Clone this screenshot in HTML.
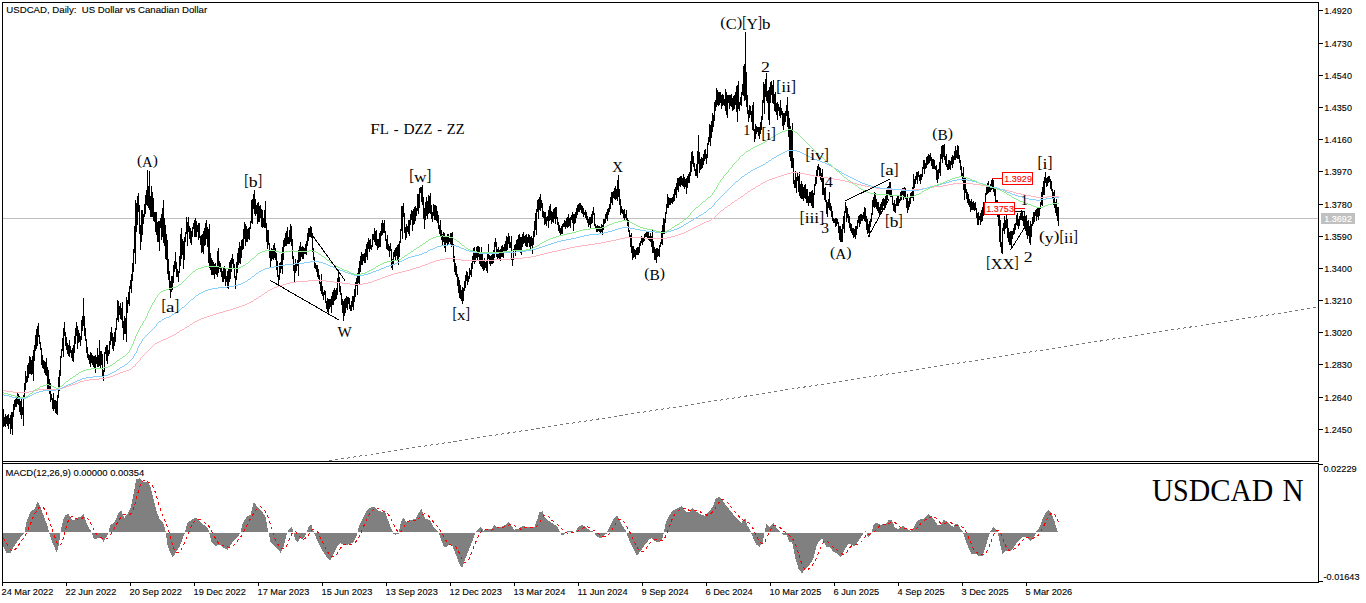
<!DOCTYPE html>
<html><head><meta charset="utf-8"><title>USDCAD Daily</title>
<style>
html,body{margin:0;padding:0;background:#fff;}
body{width:1366px;height:603px;overflow:hidden;position:relative;font-family:"Liberation Sans",sans-serif;}
svg{position:absolute;left:0;top:0;display:block;}
.ax{font-family:"Liberation Sans",sans-serif;font-size:9.8px;fill:#000;stroke:#000;stroke-width:0.12px;white-space:pre;}
.wv{font-family:"Liberation Serif",serif;font-size:15.5px;fill:#000;stroke:#000;stroke-width:0.2px;}
</style></head><body>
<svg width="1366" height="603" viewBox="0 0 1366 603">
<rect x="0" y="0" width="1366" height="603" fill="#fff"/>

<g shape-rendering="crispEdges">
<rect x="3" y="218" width="1315" height="1" fill="#c0c0c0"/>
</g>
<line x1="329" y1="460.9" x2="1318" y2="307.2" stroke="#767676" stroke-width="1" stroke-dasharray="3 3" shape-rendering="crispEdges"/>
<path d="M3.5 409V427M4.5 417V426M5.5 414V427M6.5 416V424M7.5 415V426M8.5 414V429M9.5 418V424M10.5 415V434M11.5 412V429M12.5 412V435M13.5 404V417M14.5 400V410M15.5 399V407M16.5 396V407M17.5 393V404M18.5 394V405M19.5 396V412M20.5 401V415M21.5 398V419M22.5 407V415M23.5 395V426M24.5 383V397M25.5 371V390M26.5 376V383M27.5 365V382M28.5 363V378M29.5 356V374M30.5 357V374M31.5 360V375M32.5 356V374M33.5 350V381M34.5 345V361M35.5 335V351M36.5 329V349M37.5 326V346M38.5 323V337M39.5 335V344M40.5 342V350M41.5 348V365M42.5 355V368M43.5 360V369M44.5 361V373M45.5 362V375M46.5 358V376M47.5 367V389M48.5 370V390M49.5 379V394M50.5 383V402M51.5 394V400M52.5 398V409M53.5 393V411M54.5 400V409M55.5 400V413M56.5 401V414M57.5 395V415M58.5 377V398M59.5 370V391M60.5 356V376M61.5 349V358M62.5 338V351M63.5 328V357M64.5 322V336M65.5 332V346M66.5 337V350M67.5 343V354M68.5 345V356M69.5 340V357M70.5 346V353M71.5 350V358M72.5 348V361M73.5 345V362M74.5 336V353M75.5 328V344M76.5 322V336M77.5 326V349M78.5 330V343M79.5 333V342M80.5 336V346M81.5 320V340M82.5 316V331M83.5 298V326M84.5 316V336M85.5 328V341M86.5 339V353M87.5 347V358M88.5 354V360M89.5 355V364M90.5 352V367M91.5 353V363M92.5 355V365M93.5 356V367M94.5 356V368M95.5 355V373M96.5 357V364M97.5 348V367M98.5 355V367M99.5 340V366M100.5 351V368M101.5 351V365M102.5 354V377M103.5 370V381M104.5 352V372M105.5 347V354M106.5 345V361M107.5 345V364M108.5 350V356M109.5 341V354M110.5 332V345M111.5 327V341M112.5 333V349M113.5 337V351M114.5 332V346M115.5 328V342M116.5 318V330M117.5 300V320M118.5 301V322M119.5 306V315M120.5 303V319M121.5 308V320M122.5 302V328M123.5 321V340M124.5 316V334M125.5 318V334M126.5 297V342M127.5 300V313M128.5 292V304M129.5 286V306M130.5 280V289M131.5 274V293M132.5 263V281M133.5 249V272M134.5 226V253M135.5 200V264M136.5 203V232M137.5 196V225M138.5 193V212M139.5 205V234M140.5 225V250M141.5 210V242M142.5 210V235M143.5 214V224M144.5 204V217M145.5 195V214M146.5 190V205M147.5 170V206M148.5 186V208M149.5 171V210M150.5 196V217M151.5 186V217M152.5 192V217M153.5 198V221M154.5 212V222M155.5 212V232M156.5 212V235M157.5 222V242M158.5 221V242M159.5 221V251M160.5 218V228M161.5 214V240M162.5 208V237M163.5 200V243M164.5 218V246M165.5 225V259M166.5 234V260M167.5 240V274M168.5 259V280M169.5 271V290M170.5 281V298M171.5 276V292M172.5 276V290M173.5 265V283M174.5 261V272M175.5 252V269M176.5 262V277M177.5 269V277M178.5 271V282M179.5 256V273M180.5 234V266M181.5 228V259M182.5 239V255M183.5 241V269M184.5 237V260M185.5 232V242M186.5 217V234M187.5 222V246M188.5 217V232M189.5 226V239M190.5 228V243M191.5 231V245M192.5 227V237M193.5 223V229M194.5 220V237M195.5 218V237M196.5 221V237M197.5 225V232M198.5 223V240M199.5 223V238M200.5 236V245M201.5 235V253M202.5 234V252M203.5 231V254M204.5 228V246M205.5 223V245M206.5 220V239M207.5 227V247M208.5 229V263M209.5 224V268M210.5 253V270M211.5 258V275M212.5 260V275M213.5 262V275M214.5 264V279M215.5 263V274M216.5 266V275M217.5 251V277M218.5 248V273M219.5 261V269M220.5 263V272M221.5 268V277M222.5 271V282M223.5 267V282M224.5 266V279M225.5 269V286M226.5 276V282M227.5 271V288M228.5 268V289M229.5 262V282M230.5 260V279M231.5 258V272M232.5 254V264M233.5 259V269M234.5 264V278M235.5 276V289M236.5 262V280M237.5 253V273M238.5 248V265M239.5 242V263M240.5 246V264M241.5 240V258M242.5 239V250M243.5 229V249M244.5 222V239M245.5 224V246M246.5 226V242M247.5 229V242M248.5 228V239M249.5 227V240M250.5 221V229M251.5 200V223M252.5 199V224M253.5 194V209M254.5 190V214M255.5 199V216M256.5 205V214M257.5 203V224M258.5 202V222M259.5 206V222M260.5 205V218M261.5 209V227M262.5 210V228M263.5 218V227M264.5 210V228M265.5 201V228M266.5 223V242M267.5 230V249M268.5 230V245M269.5 243V258M270.5 250V268M271.5 248V261M272.5 249V259M273.5 245V260M274.5 243V258M275.5 248V260M276.5 253V270M277.5 261V277M278.5 275V285M279.5 263V280M280.5 262V273M281.5 254V269M282.5 247V274M283.5 240V260M284.5 238V247M285.5 233V246M286.5 231V246M287.5 227V244M288.5 237V244M289.5 230V244M290.5 224V242M291.5 226V246M292.5 239V259M293.5 256V271M294.5 265V282M295.5 259V273M296.5 264V271M297.5 260V266M298.5 250V276M299.5 246V262M300.5 242V261M301.5 247V257M302.5 246V259M303.5 247V259M304.5 248V254M305.5 244V254M306.5 241V255M307.5 233V246M308.5 228V241M309.5 228V237M310.5 226V237M311.5 227V238M312.5 233V252M313.5 248V260M314.5 257V268M315.5 263V269M316.5 265V272M317.5 265V277M318.5 269V279M319.5 275V284M320.5 282V291M321.5 274V294M322.5 286V296M323.5 292V300M324.5 290V295M325.5 291V303M326.5 301V309M327.5 298V312M328.5 299V314M329.5 299V309M330.5 299V307M331.5 296V313M332.5 292V305M333.5 290V305M334.5 288V301M335.5 290V300M336.5 288V299M337.5 278V295M338.5 270V283M339.5 277V292M340.5 286V295M341.5 293V305M342.5 299V313M343.5 301V321M344.5 299V316M345.5 298V313M346.5 296V308M347.5 297V310M348.5 297V304M349.5 298V309M350.5 305V311M351.5 301V311M352.5 296V307M353.5 296V310M354.5 289V302M355.5 282V297M356.5 278V286M357.5 273V295M358.5 268V283M359.5 261V284M360.5 256V272M361.5 252V265M362.5 254V265M363.5 254V261M364.5 253V263M365.5 249V263M366.5 244V257M367.5 242V260M368.5 238V249M369.5 240V252M370.5 239V249M371.5 245V250M372.5 234V247M373.5 234V240M374.5 228V242M375.5 231V245M376.5 230V246M377.5 239V250M378.5 239V248M379.5 233V247M380.5 231V247M381.5 223V236M382.5 220V235M383.5 223V233M384.5 220V233M385.5 231V241M386.5 239V249M387.5 235V250M388.5 244V251M389.5 246V257M390.5 243V251M391.5 249V268M392.5 259V270M393.5 252V264M394.5 250V257M395.5 248V260M396.5 247V256M397.5 245V260M398.5 244V265M399.5 241V257M400.5 229V243M401.5 206V231M402.5 206V239M403.5 203V217M404.5 213V233M405.5 227V240M406.5 224V238M407.5 226V232M408.5 220V234M409.5 220V236M410.5 214V225M411.5 210V220M412.5 211V231M413.5 209V225M414.5 207V224M415.5 206V221M416.5 208V216M417.5 194V211M418.5 194V214M419.5 188V208M420.5 187V193M421.5 187V202M422.5 185V205M423.5 197V219M424.5 208V229M425.5 202V220M426.5 197V216M427.5 201V219M428.5 195V214M429.5 196V213M430.5 193V214M431.5 205V219M432.5 212V222M433.5 204V216M434.5 205V220M435.5 205V220M436.5 206V221M437.5 211V223M438.5 215V229M439.5 225V234M440.5 220V237M441.5 230V240M442.5 234V245M443.5 232V242M444.5 233V248M445.5 236V252M446.5 236V243M447.5 234V245M448.5 234V244M449.5 238V242M450.5 233V244M451.5 233V247M452.5 232V246M453.5 244V262M454.5 256V272M455.5 263V275M456.5 266V277M457.5 274V286M458.5 277V293M459.5 280V298M460.5 285V299M461.5 290V301M462.5 287V304M463.5 288V301M464.5 281V291M465.5 275V288M466.5 271V281M467.5 272V285M468.5 276V282M469.5 268V279M470.5 270V275M471.5 263V277M472.5 256V269M473.5 248V262M474.5 247V264M475.5 252V262M476.5 247V258M477.5 246V261M478.5 246V257M479.5 247V264M480.5 252V266M481.5 247V267M482.5 254V269M483.5 261V271M484.5 258V270M485.5 262V268M486.5 261V271M487.5 253V273M488.5 244V259M489.5 255V264M490.5 256V266M491.5 255V264M492.5 253V264M493.5 250V263M494.5 242V258M495.5 238V247M496.5 242V257M497.5 249V260M498.5 247V258M499.5 250V260M500.5 249V261M501.5 246V257M502.5 245V257M503.5 247V258M504.5 244V253M505.5 241V253M506.5 236V252M507.5 237V250M508.5 233V244M509.5 236V248M510.5 242V248M511.5 236V260M512.5 258V266M513.5 249V260M514.5 245V251M515.5 244V256M516.5 240V252M517.5 239V251M518.5 235V250M519.5 234V252M520.5 237V253M521.5 237V255M522.5 234V247M523.5 232V244M524.5 236V243M525.5 235V246M526.5 234V247M527.5 237V247M528.5 234V243M529.5 235V247M530.5 237V249M531.5 236V246M532.5 238V254M533.5 231V245M534.5 221V237M535.5 213V230M536.5 209V235M537.5 200V212M538.5 199V219M539.5 197V210M540.5 194V211M541.5 200V208M542.5 203V217M543.5 211V218M544.5 212V225M545.5 212V224M546.5 217V226M547.5 216V221M548.5 210V228M549.5 206V221M550.5 204V220M551.5 211V224M552.5 212V222M553.5 209V223M554.5 208V219M555.5 207V224M556.5 207V219M557.5 217V225M558.5 222V231M559.5 225V233M560.5 228V236M561.5 226V234M562.5 224V234M563.5 223V227M564.5 220V227M565.5 221V229M566.5 218V227M567.5 217V228M568.5 214V227M569.5 218V226M570.5 217V228M571.5 215V220M572.5 212V223M573.5 214V231M574.5 214V224M575.5 212V223M576.5 208V218M577.5 205V215M578.5 204V212M579.5 203V212M580.5 203V210M581.5 205V213M582.5 206V214M583.5 208V217M584.5 212V215M585.5 210V218M586.5 212V220M587.5 216V223M588.5 219V227M589.5 217V225M590.5 217V228M591.5 214V224M592.5 211V223M593.5 207V215M594.5 213V226M595.5 224V228M596.5 226V232M597.5 225V232M598.5 226V231M599.5 226V232M600.5 227V233M601.5 224V232M602.5 225V235M603.5 219V230M604.5 219V224M605.5 214V223M606.5 212V219M607.5 209V221M608.5 208V215M609.5 204V212M610.5 197V209M611.5 192V203M612.5 192V205M613.5 191V198M614.5 188V199M615.5 186V200M616.5 189V199M617.5 180V201M618.5 175V197M619.5 189V205M620.5 199V215M621.5 206V213M622.5 209V214M623.5 210V218M624.5 209V220M625.5 214V218M626.5 210V220M627.5 218V226M628.5 220V232M629.5 230V237M630.5 235V247M631.5 233V253M632.5 246V260M633.5 246V258M634.5 249V257M635.5 250V259M636.5 248V255M637.5 247V255M638.5 247V255M639.5 243V253M640.5 241V246M641.5 236V243M642.5 238V245M643.5 237V242M644.5 234V241M645.5 233V237M646.5 231V237M647.5 232V238M648.5 232V240M649.5 236V241M650.5 233V242M651.5 236V247M652.5 229V253M653.5 241V253M654.5 247V260M655.5 249V260M656.5 248V263M657.5 248V257M658.5 249V256M659.5 245V257M660.5 242V247M661.5 231V244M662.5 225V245M663.5 218V234M664.5 219V234M665.5 212V223M666.5 204V214M667.5 194V208M668.5 197V208M669.5 198V205M670.5 198V205M671.5 198V203M672.5 197V204M673.5 194V202M674.5 189V201M675.5 187V195M676.5 183V198M677.5 178V190M678.5 178V192M679.5 177V186M680.5 176V187M681.5 176V185M682.5 178V186M683.5 174V187M684.5 177V189M685.5 179V187M686.5 178V194M687.5 176V188M688.5 174V183M689.5 172V183M690.5 161V176M691.5 152V172M692.5 151V164M693.5 156V167M694.5 163V171M695.5 169V176M696.5 164V176M697.5 151V178M698.5 135V164M699.5 152V173M700.5 159V170M701.5 157V169M702.5 158V168M703.5 154V165M704.5 150V161M705.5 149V159M706.5 154V164M707.5 143V158M708.5 137V145M709.5 124V142M710.5 125V146M711.5 121V138M712.5 113V132M713.5 115V127M714.5 102V121M715.5 100V111M716.5 88V107M717.5 90V105M718.5 92V106M719.5 92V105M720.5 92V103M721.5 95V109M722.5 94V106M723.5 95V105M724.5 99V106M725.5 89V111M726.5 92V115M727.5 95V118M728.5 95V103M729.5 95V109M730.5 95V106M731.5 94V107M732.5 98V111M733.5 96V110M734.5 95V109M735.5 92V105M736.5 86V112M737.5 85V122M738.5 81V109M739.5 102V111M740.5 97V105M741.5 92V106M742.5 84V95M743.5 66V96M744.5 64V101M745.5 32V100M746.5 72V107M747.5 95V114M748.5 110V122M749.5 105V118M750.5 106V115M751.5 111V122M752.5 105V130M753.5 102V131M754.5 129V142M755.5 124V139M756.5 126V134M757.5 127V132M758.5 127V136M759.5 127V139M760.5 122V134M761.5 116V130M762.5 100V120M763.5 82V103M764.5 84V114M765.5 79V97M766.5 73V101M767.5 91V103M768.5 90V120M769.5 87V125M770.5 82V103M771.5 81V95M772.5 85V103M773.5 80V104M774.5 94V111M775.5 92V112M776.5 103V115M777.5 102V120M778.5 104V111M779.5 107V116M780.5 100V118M781.5 108V115M782.5 111V126M783.5 113V130M784.5 113V125M785.5 111V122M786.5 105V116M787.5 97V127M788.5 111V137M789.5 118V157M790.5 126V161M791.5 129V168M792.5 123V168M793.5 158V184M794.5 180V188M795.5 171V188M796.5 177V193M797.5 172V181M798.5 176V192M799.5 172V196M800.5 184V198M801.5 181V199M802.5 184V199M803.5 187V201M804.5 185V198M805.5 184V199M806.5 189V203M807.5 189V203M808.5 196V206M809.5 192V203M810.5 192V203M811.5 191V206M812.5 190V208M813.5 193V208M814.5 184V195M815.5 176V186M816.5 170V184M817.5 166V176M818.5 164V170M819.5 167V177M820.5 168V180M821.5 173V182M822.5 169V195M823.5 178V195M824.5 188V200M825.5 187V202M826.5 200V214M827.5 202V217M828.5 199V208M829.5 192V210M830.5 203V211M831.5 206V217M832.5 211V221M833.5 218V223M834.5 219V223M835.5 218V227M836.5 218V226M837.5 219V224M838.5 222V233M839.5 226V240M840.5 226V242M841.5 229V242M842.5 224V242M843.5 216V229M844.5 211V233M845.5 202V213M846.5 206V222M847.5 208V218M848.5 214V223M849.5 216V228M850.5 223V231M851.5 224V233M852.5 228V235M853.5 228V238M854.5 229V237M855.5 226V239M856.5 226V235M857.5 220V229M858.5 216V223M859.5 215V227M860.5 214V224M861.5 214V221M862.5 215V221M863.5 212V219M864.5 207V221M865.5 208V222M866.5 216V230M867.5 219V234M868.5 224V233M869.5 221V237M870.5 219V227M871.5 213V222M872.5 200V215M873.5 197V207M874.5 192V208M875.5 193V207M876.5 199V209M877.5 202V211M878.5 202V213M879.5 207V215M880.5 204V213M881.5 202V210M882.5 199V211M883.5 198V206M884.5 199V210M885.5 196V208M886.5 190V204M887.5 187V200M888.5 186V194M889.5 182V195M890.5 182V197M891.5 190V197M892.5 195V205M893.5 203V211M894.5 200V212M895.5 204V213M896.5 198V206M897.5 195V206M898.5 196V206M899.5 199V203M900.5 192V201M901.5 191V200M902.5 188V195M903.5 188V200M904.5 187V198M905.5 188V199M906.5 197V208M907.5 194V213M908.5 201V210M909.5 198V207M910.5 193V204M911.5 192V198M912.5 187V198M913.5 174V201M914.5 179V188M915.5 176V184M916.5 172V180M917.5 172V184M918.5 171V177M919.5 175V181M920.5 174V184M921.5 174V180M922.5 167V177M923.5 160V169M924.5 160V174M925.5 163V169M926.5 157V168M927.5 156V165M928.5 154V164M929.5 155V163M930.5 153V161M931.5 157V166M932.5 159V169M933.5 159V169M934.5 160V169M935.5 166V170M936.5 165V180M937.5 170V183M938.5 169V179M939.5 162V173M940.5 154V176M941.5 146V159M942.5 145V163M943.5 145V157M944.5 144V160M945.5 156V165M946.5 154V167M947.5 164V170M948.5 160V170M949.5 160V169M950.5 161V170M951.5 157V165M952.5 155V168M953.5 156V164M954.5 151V160M955.5 146V160M956.5 150V158M957.5 145V159M958.5 146V159M959.5 155V163M960.5 160V170M961.5 166V177M962.5 173V181M963.5 167V190M964.5 178V200M965.5 178V193M966.5 189V199M967.5 192V203M968.5 194V205M969.5 199V207M970.5 201V212M971.5 199V210M972.5 202V210M973.5 201V210M974.5 203V211M975.5 202V210M976.5 208V218M977.5 213V225M978.5 212V225M979.5 216V220M980.5 213V225M981.5 210V222M982.5 207V221M983.5 202V216M984.5 202V211M985.5 193V205M986.5 186V195M987.5 183V194M988.5 181V193M989.5 187V192M990.5 184V192M991.5 180V190M992.5 178V189M993.5 180V192M994.5 188V196M995.5 189V206M996.5 200V209M997.5 200V217M998.5 208V226M999.5 204V242M1000.5 220V247M1001.5 242V253M1002.5 228V254M1003.5 223V231M1004.5 216V234M1005.5 220V229M1006.5 214V228M1007.5 219V238M1008.5 228V242M1009.5 232V245M1010.5 231V245M1011.5 231V248M1012.5 231V239M1013.5 228V235M1014.5 224V234M1015.5 223V230M1016.5 215V225M1017.5 213V226M1018.5 219V229M1019.5 216V226M1020.5 213V220M1021.5 210V220M1022.5 212V221M1023.5 216V226M1024.5 211V229M1025.5 216V231M1026.5 215V235M1027.5 221V239M1028.5 220V236M1029.5 226V243M1030.5 221V245M1031.5 224V237M1032.5 217V226M1033.5 212V224M1034.5 212V222M1035.5 210V216M1036.5 209V221M1037.5 208V217M1038.5 208V220M1039.5 207V216M1040.5 202V209M1041.5 192V205M1042.5 187V206M1043.5 181V195M1044.5 177V195M1045.5 172V183M1046.5 178V187M1047.5 177V186M1048.5 176V183M1049.5 176V182M1050.5 179V189M1051.5 181V191M1052.5 189V198M1053.5 192V205M1054.5 190V208M1055.5 202V213M1056.5 199V216M1057.5 207V221M1058.5 207V226" stroke="#000" stroke-width="1" fill="none" shape-rendering="crispEdges"/>
<path fill="none" stroke="#ffb6c1" stroke-width="1" shape-rendering="crispEdges" d="M3.5 390V391M4.5 390V391M5.5 390V391M6.5 391V392M7.5 391V392M8.5 391V392M9.5 391V392M10.5 391V392M11.5 391V392M12.5 391V392M13.5 392V393M14.5 392V393M15.5 392V393M16.5 392V393M17.5 392V393M18.5 392V393M19.5 392V393M20.5 392V393M21.5 392V393M22.5 392V393M23.5 392V393M24.5 392V393M25.5 392V393M26.5 392V393M27.5 392V393M28.5 392V393M29.5 391V392M30.5 391V392M31.5 391V392M32.5 391V392M33.5 390V391M34.5 390V391M35.5 390V391M36.5 390V391M37.5 390V391M38.5 389V390M39.5 389V390M40.5 389V390M41.5 389V390M42.5 389V390M43.5 389V390M44.5 389V390M45.5 389V390M46.5 389V390M47.5 389V390M48.5 389V390M49.5 389V390M50.5 389V390M51.5 389V390M52.5 389V390M53.5 389V390M54.5 389V390M55.5 389V390M56.5 389V390M57.5 389V390M58.5 388V389M59.5 388V389M60.5 388V389M61.5 388V389M62.5 388V389M63.5 387V388M64.5 387V388M65.5 387V388M66.5 386V387M67.5 386V387M68.5 386V387M69.5 385V386M70.5 385V386M71.5 385V386M72.5 384V385M73.5 384V385M74.5 384V385M75.5 383V384M76.5 383V384M77.5 383V384M78.5 382V383M79.5 382V383M80.5 381V382M81.5 381V382M82.5 381V382M83.5 381V382M84.5 380V381M85.5 380V381M86.5 380V381M87.5 380V381M88.5 380V381M89.5 379V380M90.5 379V380M91.5 379V380M92.5 379V380M93.5 379V380M94.5 379V380M95.5 379V380M96.5 379V380M97.5 379V380M98.5 379V380M99.5 378V379M100.5 378V379M101.5 378V379M102.5 378V379M103.5 378V379M104.5 378V379M105.5 378V379M106.5 377V378M107.5 377V378M108.5 377V378M109.5 377V378M110.5 376V377M111.5 376V377M112.5 376V377M113.5 375V376M114.5 375V376M115.5 374V375M116.5 374V375M117.5 374V375M118.5 373V374M119.5 373V374M120.5 372V373M121.5 372V373M122.5 372V373M123.5 371V372M124.5 371V372M125.5 371V372M126.5 370V371M127.5 370V371M128.5 370V371M129.5 369V370M130.5 369V370M131.5 368V369M132.5 367V368M133.5 366V367M134.5 366V367M135.5 364V366M136.5 363V364M137.5 362V363M138.5 361V362M139.5 360V361M140.5 358V360M141.5 357V358M142.5 356V357M143.5 355V356M144.5 354V355M145.5 353V354M146.5 352V353M147.5 351V352M148.5 350V351M149.5 349V350M150.5 348V349M151.5 347V348M152.5 346V347M153.5 345V346M154.5 344V345M155.5 343V344M156.5 343V344M157.5 342V343M158.5 342V343M159.5 341V342M160.5 341V342M161.5 340V341M162.5 340V341M163.5 339V340M164.5 339V340M165.5 339V340M166.5 338V339M167.5 338V339M168.5 337V338M169.5 337V338M170.5 336V337M171.5 336V337M172.5 335V336M173.5 335V336M174.5 334V335M175.5 334V335M176.5 333V334M177.5 332V333M178.5 332V333M179.5 331V332M180.5 330V331M181.5 330V331M182.5 329V330M183.5 329V330M184.5 328V329M185.5 327V328M186.5 327V328M187.5 326V327M188.5 326V327M189.5 325V326M190.5 324V325M191.5 324V325M192.5 323V324M193.5 322V323M194.5 322V323M195.5 321V322M196.5 321V322M197.5 320V321M198.5 320V321M199.5 319V320M200.5 319V320M201.5 318V319M202.5 318V319M203.5 318V319M204.5 317V318M205.5 317V318M206.5 317V318M207.5 316V317M208.5 316V317M209.5 316V317M210.5 315V316M211.5 315V316M212.5 315V316M213.5 314V315M214.5 314V315M215.5 314V315M216.5 313V314M217.5 313V314M218.5 313V314M219.5 312V313M220.5 312V313M221.5 312V313M222.5 312V313M223.5 311V312M224.5 311V312M225.5 311V312M226.5 310V311M227.5 310V311M228.5 310V311M229.5 310V311M230.5 309V310M231.5 309V310M232.5 309V310M233.5 308V309M234.5 308V309M235.5 308V309M236.5 307V308M237.5 307V308M238.5 307V308M239.5 306V307M240.5 306V307M241.5 306V307M242.5 305V306M243.5 305V306M244.5 305V306M245.5 304V305M246.5 304V305M247.5 303V304M248.5 303V304M249.5 302V303M250.5 302V303M251.5 301V302M252.5 301V302M253.5 300V301M254.5 299V300M255.5 299V300M256.5 298V299M257.5 298V299M258.5 297V298M259.5 296V297M260.5 296V297M261.5 295V296M262.5 294V295M263.5 294V295M264.5 293V294M265.5 292V293M266.5 292V293M267.5 291V292M268.5 290V291M269.5 290V291M270.5 289V290M271.5 289V290M272.5 288V289M273.5 288V289M274.5 287V288M275.5 287V288M276.5 287V288M277.5 286V287M278.5 286V287M279.5 285V286M280.5 285V286M281.5 285V286M282.5 285V286M283.5 284V285M284.5 284V285M285.5 284V285M286.5 283V284M287.5 283V284M288.5 283V284M289.5 283V284M290.5 282V283M291.5 282V283M292.5 282V283M293.5 282V283M294.5 282V283M295.5 282V283M296.5 281V282M297.5 281V282M298.5 281V282M299.5 281V282M300.5 281V282M301.5 281V282M302.5 281V282M303.5 281V282M304.5 281V282M305.5 281V282M306.5 281V282M307.5 281V282M308.5 280V281M309.5 280V281M310.5 280V281M311.5 280V281M312.5 280V281M313.5 280V281M314.5 280V281M315.5 280V281M316.5 280V281M317.5 280V281M318.5 280V281M319.5 280V281M320.5 280V281M321.5 280V281M322.5 280V281M323.5 280V281M324.5 280V281M325.5 280V281M326.5 281V282M327.5 281V282M328.5 281V282M329.5 281V282M330.5 281V282M331.5 281V282M332.5 281V282M333.5 281V282M334.5 282V283M335.5 282V283M336.5 282V283M337.5 282V283M338.5 282V283M339.5 282V283M340.5 282V283M341.5 282V283M342.5 283V284M343.5 283V284M344.5 283V284M345.5 283V284M346.5 283V284M347.5 283V284M348.5 283V284M349.5 283V284M350.5 284V285M351.5 284V285M352.5 284V285M353.5 284V285M354.5 284V285M355.5 284V285M356.5 284V285M357.5 284V285M358.5 284V285M359.5 284V285M360.5 284V285M361.5 284V285M362.5 284V285M363.5 283V284M364.5 283V284M365.5 283V284M366.5 283V284M367.5 283V284M368.5 282V283M369.5 282V283M370.5 282V283M371.5 282V283M372.5 281V282M373.5 281V282M374.5 280V281M375.5 280V281M376.5 280V281M377.5 279V280M378.5 279V280M379.5 279V280M380.5 278V279M381.5 278V279M382.5 277V278M383.5 277V278M384.5 277V278M385.5 276V277M386.5 276V277M387.5 276V277M388.5 275V276M389.5 275V276M390.5 275V276M391.5 274V275M392.5 274V275M393.5 274V275M394.5 273V274M395.5 273V274M396.5 273V274M397.5 273V274M398.5 272V273M399.5 272V273M400.5 272V273M401.5 272V273M402.5 271V272M403.5 271V272M404.5 271V272M405.5 271V272M406.5 270V271M407.5 270V271M408.5 270V271M409.5 270V271M410.5 269V270M411.5 269V270M412.5 269V270M413.5 268V269M414.5 268V269M415.5 268V269M416.5 267V268M417.5 267V268M418.5 267V268M419.5 267V268M420.5 266V267M421.5 266V267M422.5 265V266M423.5 265V266M424.5 265V266M425.5 264V265M426.5 264V265M427.5 264V265M428.5 263V264M429.5 263V264M430.5 262V263M431.5 262V263M432.5 262V263M433.5 261V262M434.5 261V262M435.5 261V262M436.5 260V261M437.5 260V261M438.5 260V261M439.5 260V261M440.5 259V260M441.5 259V260M442.5 259V260M443.5 259V260M444.5 259V260M445.5 258V259M446.5 258V259M447.5 258V259M448.5 258V259M449.5 258V259M450.5 258V259M451.5 258V259M452.5 258V259M453.5 258V259M454.5 258V259M455.5 259V260M456.5 259V260M457.5 259V260M458.5 259V260M459.5 259V260M460.5 259V260M461.5 260V261M462.5 260V261M463.5 260V261M464.5 260V261M465.5 260V261M466.5 260V261M467.5 260V261M468.5 260V261M469.5 260V261M470.5 260V261M471.5 260V261M472.5 260V261M473.5 260V261M474.5 260V261M475.5 260V261M476.5 260V261M477.5 260V261M478.5 260V261M479.5 260V261M480.5 260V261M481.5 260V261M482.5 260V261M483.5 260V261M484.5 260V261M485.5 260V261M486.5 260V261M487.5 260V261M488.5 260V261M489.5 260V261M490.5 260V261M491.5 260V261M492.5 260V261M493.5 260V261M494.5 259V260M495.5 259V260M496.5 259V260M497.5 259V260M498.5 259V260M499.5 259V260M500.5 259V260M501.5 259V260M502.5 259V260M503.5 259V260M504.5 259V260M505.5 259V260M506.5 259V260M507.5 259V260M508.5 259V260M509.5 259V260M510.5 258V259M511.5 258V259M512.5 258V259M513.5 258V259M514.5 258V259M515.5 258V259M516.5 258V259M517.5 258V259M518.5 258V259M519.5 258V259M520.5 258V259M521.5 258V259M522.5 258V259M523.5 257V258M524.5 257V258M525.5 257V258M526.5 257V258M527.5 257V258M528.5 257V258M529.5 257V258M530.5 257V258M531.5 256V257M532.5 256V257M533.5 256V257M534.5 256V257M535.5 256V257M536.5 255V256M537.5 255V256M538.5 255V256M539.5 255V256M540.5 254V255M541.5 254V255M542.5 254V255M543.5 254V255M544.5 253V254M545.5 253V254M546.5 253V254M547.5 253V254M548.5 252V253M549.5 252V253M550.5 252V253M551.5 252V253M552.5 251V252M553.5 251V252M554.5 251V252M555.5 251V252M556.5 251V252M557.5 250V251M558.5 250V251M559.5 250V251M560.5 250V251M561.5 249V250M562.5 249V250M563.5 249V250M564.5 249V250M565.5 249V250M566.5 248V249M567.5 248V249M568.5 248V249M569.5 248V249M570.5 247V248M571.5 247V248M572.5 247V248M573.5 247V248M574.5 247V248M575.5 246V247M576.5 246V247M577.5 246V247M578.5 246V247M579.5 246V247M580.5 246V247M581.5 245V246M582.5 245V246M583.5 245V246M584.5 245V246M585.5 245V246M586.5 245V246M587.5 245V246M588.5 244V245M589.5 244V245M590.5 244V245M591.5 244V245M592.5 244V245M593.5 244V245M594.5 244V245M595.5 243V244M596.5 243V244M597.5 243V244M598.5 243V244M599.5 243V244M600.5 243V244M601.5 242V243M602.5 242V243M603.5 242V243M604.5 242V243M605.5 242V243M606.5 241V242M607.5 241V242M608.5 241V242M609.5 241V242M610.5 241V242M611.5 240V241M612.5 240V241M613.5 240V241M614.5 240V241M615.5 240V241M616.5 239V240M617.5 239V240M618.5 239V240M619.5 239V240M620.5 238V239M621.5 238V239M622.5 238V239M623.5 238V239M624.5 238V239M625.5 237V238M626.5 237V238M627.5 237V238M628.5 237V238M629.5 237V238M630.5 237V238M631.5 237V238M632.5 237V238M633.5 237V238M634.5 237V238M635.5 237V238M636.5 237V238M637.5 237V238M638.5 237V238M639.5 237V238M640.5 237V238M641.5 237V238M642.5 237V238M643.5 237V238M644.5 238V239M645.5 238V239M646.5 238V239M647.5 238V239M648.5 238V239M649.5 238V239M650.5 238V239M651.5 238V239M652.5 238V239M653.5 238V239M654.5 238V239M655.5 238V239M656.5 238V239M657.5 238V239M658.5 238V239M659.5 238V239M660.5 238V239M661.5 238V239M662.5 238V239M663.5 238V239M664.5 238V239M665.5 238V239M666.5 238V239M667.5 237V238M668.5 237V238M669.5 237V238M670.5 237V238M671.5 236V237M672.5 236V237M673.5 236V237M674.5 236V237M675.5 235V236M676.5 235V236M677.5 235V236M678.5 234V235M679.5 234V235M680.5 234V235M681.5 233V234M682.5 233V234M683.5 233V234M684.5 232V233M685.5 232V233M686.5 231V232M687.5 231V232M688.5 230V231M689.5 230V231M690.5 229V230M691.5 229V230M692.5 228V229M693.5 228V229M694.5 227V228M695.5 227V228M696.5 226V227M697.5 226V227M698.5 225V226M699.5 225V226M700.5 224V225M701.5 224V225M702.5 223V224M703.5 223V224M704.5 222V223M705.5 222V223M706.5 221V222M707.5 221V222M708.5 221V222M709.5 220V221M710.5 220V221M711.5 219V220M712.5 218V219M713.5 218V219M714.5 217V218M715.5 216V217M716.5 215V216M717.5 214V215M718.5 213V214M719.5 212V213M720.5 211V212M721.5 210V211M722.5 210V211M723.5 209V210M724.5 208V209M725.5 207V208M726.5 207V208M727.5 206V207M728.5 205V206M729.5 205V206M730.5 204V205M731.5 203V204M732.5 202V203M733.5 202V203M734.5 201V202M735.5 200V201M736.5 200V201M737.5 199V200M738.5 198V199M739.5 198V199M740.5 197V198M741.5 196V197M742.5 196V197M743.5 195V196M744.5 194V195M745.5 193V194M746.5 193V194M747.5 192V193M748.5 191V192M749.5 191V192M750.5 190V191M751.5 189V190M752.5 189V190M753.5 188V189M754.5 188V189M755.5 187V188M756.5 186V187M757.5 186V187M758.5 185V186M759.5 185V186M760.5 184V185M761.5 183V184M762.5 183V184M763.5 182V183M764.5 182V183M765.5 181V182M766.5 181V182M767.5 180V181M768.5 180V181M769.5 179V180M770.5 179V180M771.5 179V180M772.5 178V179M773.5 178V179M774.5 178V179M775.5 177V178M776.5 177V178M777.5 177V178M778.5 176V177M779.5 176V177M780.5 176V177M781.5 175V176M782.5 175V176M783.5 175V176M784.5 174V175M785.5 174V175M786.5 174V175M787.5 173V174M788.5 173V174M789.5 173V174M790.5 173V174M791.5 172V173M792.5 172V173M793.5 172V173M794.5 172V173M795.5 172V173M796.5 172V173M797.5 172V173M798.5 173V174M799.5 173V174M800.5 173V174M801.5 173V174M802.5 173V174M803.5 173V174M804.5 173V174M805.5 174V175M806.5 174V175M807.5 174V175M808.5 174V175M809.5 174V175M810.5 175V176M811.5 175V176M812.5 175V176M813.5 175V176M814.5 175V176M815.5 176V177M816.5 176V177M817.5 176V177M818.5 176V177M819.5 176V177M820.5 176V177M821.5 177V178M822.5 177V178M823.5 177V178M824.5 177V178M825.5 177V178M826.5 177V178M827.5 177V178M828.5 178V179M829.5 178V179M830.5 178V179M831.5 178V179M832.5 178V179M833.5 178V179M834.5 179V180M835.5 179V180M836.5 179V180M837.5 179V180M838.5 179V180M839.5 179V180M840.5 180V181M841.5 180V181M842.5 180V181M843.5 180V181M844.5 180V181M845.5 181V182M846.5 181V182M847.5 181V182M848.5 181V182M849.5 182V183M850.5 182V183M851.5 182V183M852.5 182V183M853.5 183V184M854.5 183V184M855.5 183V184M856.5 183V184M857.5 184V185M858.5 184V185M859.5 184V185M860.5 184V185M861.5 185V186M862.5 185V186M863.5 185V186M864.5 185V186M865.5 186V187M866.5 186V187M867.5 186V187M868.5 186V187M869.5 186V187M870.5 187V188M871.5 187V188M872.5 187V188M873.5 187V188M874.5 187V188M875.5 187V188M876.5 188V189M877.5 188V189M878.5 188V189M879.5 188V189M880.5 188V189M881.5 188V189M882.5 188V189M883.5 188V189M884.5 188V189M885.5 188V189M886.5 188V189M887.5 189V190M888.5 189V190M889.5 189V190M890.5 189V190M891.5 189V190M892.5 189V190M893.5 189V190M894.5 189V190M895.5 189V190M896.5 189V190M897.5 189V190M898.5 189V190M899.5 189V190M900.5 189V190M901.5 189V190M902.5 189V190M903.5 189V190M904.5 189V190M905.5 190V191M906.5 190V191M907.5 190V191M908.5 190V191M909.5 190V191M910.5 190V191M911.5 190V191M912.5 189V190M913.5 189V190M914.5 189V190M915.5 189V190M916.5 189V190M917.5 189V190M918.5 189V190M919.5 189V190M920.5 189V190M921.5 189V190M922.5 188V189M923.5 188V189M924.5 188V189M925.5 188V189M926.5 188V189M927.5 187V188M928.5 187V188M929.5 187V188M930.5 187V188M931.5 187V188M932.5 187V188M933.5 187V188M934.5 186V187M935.5 186V187M936.5 186V187M937.5 186V187M938.5 186V187M939.5 186V187M940.5 186V187M941.5 186V187M942.5 186V187M943.5 185V186M944.5 185V186M945.5 185V186M946.5 185V186M947.5 185V186M948.5 184V185M949.5 184V185M950.5 184V185M951.5 184V185M952.5 184V185M953.5 183V184M954.5 183V184M955.5 183V184M956.5 183V184M957.5 183V184M958.5 183V184M959.5 183V184M960.5 183V184M961.5 183V184M962.5 183V184M963.5 183V184M964.5 183V184M965.5 183V184M966.5 183V184M967.5 183V184M968.5 183V184M969.5 183V184M970.5 183V184M971.5 183V184M972.5 183V184M973.5 184V185M974.5 184V185M975.5 184V185M976.5 184V185M977.5 184V185M978.5 184V185M979.5 184V185M980.5 184V185M981.5 185V186M982.5 185V186M983.5 185V186M984.5 185V186M985.5 185V186M986.5 186V187M987.5 186V187M988.5 186V187M989.5 186V187M990.5 186V187M991.5 187V188M992.5 187V188M993.5 187V188M994.5 187V188M995.5 187V188M996.5 188V189M997.5 188V189M998.5 188V189M999.5 188V189M1000.5 189V190M1001.5 189V190M1002.5 189V190M1003.5 189V190M1004.5 189V190M1005.5 190V191M1006.5 190V191M1007.5 190V191M1008.5 190V191M1009.5 191V192M1010.5 191V192M1011.5 191V192M1012.5 191V192M1013.5 192V193M1014.5 192V193M1015.5 192V193M1016.5 193V194M1017.5 193V194M1018.5 193V194M1019.5 193V194M1020.5 193V194M1021.5 194V195M1022.5 194V195M1023.5 194V195M1024.5 194V195M1025.5 195V196M1026.5 195V196M1027.5 195V196M1028.5 195V196M1029.5 195V196M1030.5 195V196M1031.5 196V197M1032.5 196V197M1033.5 196V197M1034.5 196V197M1035.5 196V197M1036.5 197V198M1037.5 197V198M1038.5 197V198M1039.5 197V198M1040.5 197V198M1041.5 197V198M1042.5 197V198M1043.5 197V198M1044.5 197V198M1045.5 197V198M1046.5 197V198M1047.5 196V197M1048.5 196V197M1049.5 196V197M1050.5 196V197M1051.5 196V197M1052.5 196V197M1053.5 196V197M1054.5 196V197M1055.5 196V197M1056.5 196V197M1057.5 196V197M1058.5 196V197"/>
<path fill="none" stroke="#87cefa" stroke-width="1" shape-rendering="crispEdges" d="M3.5 394V395M4.5 395V396M5.5 395V396M6.5 395V396M7.5 395V396M8.5 395V396M9.5 396V397M10.5 396V397M11.5 396V397M12.5 397V398M13.5 397V398M14.5 397V398M15.5 397V398M16.5 397V398M17.5 398V399M18.5 398V399M19.5 398V399M20.5 398V399M21.5 398V399M22.5 398V399M23.5 398V399M24.5 398V399M25.5 398V399M26.5 397V398M27.5 397V398M28.5 396V397M29.5 396V397M30.5 395V396M31.5 395V396M32.5 394V395M33.5 394V395M34.5 393V394M35.5 393V394M36.5 392V393M37.5 392V393M38.5 392V393M39.5 391V392M40.5 391V392M41.5 391V392M42.5 391V392M43.5 390V391M44.5 390V391M45.5 390V391M46.5 390V391M47.5 390V391M48.5 390V391M49.5 390V391M50.5 390V391M51.5 390V391M52.5 390V391M53.5 390V391M54.5 390V391M55.5 390V391M56.5 389V390M57.5 389V390M58.5 389V390M59.5 389V390M60.5 388V389M61.5 388V389M62.5 387V388M63.5 387V388M64.5 386V387M65.5 386V387M66.5 385V386M67.5 385V386M68.5 384V385M69.5 384V385M70.5 384V385M71.5 383V384M72.5 383V384M73.5 382V383M74.5 382V383M75.5 381V382M76.5 381V382M77.5 380V381M78.5 380V381M79.5 380V381M80.5 379V380M81.5 379V380M82.5 378V379M83.5 378V379M84.5 378V379M85.5 378V379M86.5 377V378M87.5 377V378M88.5 377V378M89.5 377V378M90.5 377V378M91.5 377V378M92.5 377V378M93.5 376V377M94.5 376V377M95.5 376V377M96.5 376V377M97.5 376V377M98.5 376V377M99.5 376V377M100.5 376V377M101.5 376V377M102.5 376V377M103.5 376V377M104.5 375V376M105.5 375V376M106.5 375V376M107.5 375V376M108.5 374V375M109.5 374V375M110.5 373V374M111.5 373V374M112.5 372V373M113.5 372V373M114.5 371V372M115.5 371V372M116.5 370V371M117.5 369V370M118.5 369V370M119.5 368V369M120.5 367V368M121.5 367V368M122.5 366V367M123.5 366V367M124.5 365V366M125.5 364V365M126.5 364V365M127.5 363V364M128.5 362V363M129.5 361V362M130.5 360V361M131.5 359V360M132.5 358V359M133.5 356V358M134.5 354V356M135.5 353V354M136.5 351V353M137.5 348V351M138.5 346V348M139.5 344V346M140.5 343V344M141.5 341V343M142.5 339V341M143.5 338V339M144.5 337V338M145.5 336V337M146.5 335V336M147.5 334V335M148.5 333V334M149.5 332V333M150.5 331V332M151.5 330V331M152.5 329V330M153.5 328V329M154.5 327V328M155.5 326V327M156.5 324V326M157.5 323V324M158.5 322V323M159.5 321V322M160.5 321V322M161.5 320V321M162.5 319V320M163.5 319V320M164.5 318V319M165.5 318V319M166.5 317V318M167.5 317V318M168.5 317V318M169.5 316V317M170.5 316V317M171.5 315V316M172.5 314V315M173.5 314V315M174.5 313V314M175.5 313V314M176.5 312V313M177.5 311V312M178.5 311V312M179.5 310V311M180.5 309V310M181.5 308V309M182.5 307V308M183.5 307V308M184.5 306V307M185.5 305V306M186.5 304V305M187.5 303V304M188.5 302V303M189.5 301V302M190.5 300V301M191.5 299V300M192.5 299V300M193.5 298V299M194.5 297V298M195.5 296V297M196.5 295V296M197.5 295V296M198.5 294V295M199.5 293V294M200.5 293V294M201.5 292V293M202.5 292V293M203.5 291V292M204.5 291V292M205.5 290V291M206.5 290V291M207.5 290V291M208.5 289V290M209.5 289V290M210.5 289V290M211.5 289V290M212.5 288V289M213.5 288V289M214.5 288V289M215.5 288V289M216.5 288V289M217.5 288V289M218.5 287V288M219.5 287V288M220.5 287V288M221.5 287V288M222.5 287V288M223.5 287V288M224.5 287V288M225.5 287V288M226.5 287V288M227.5 286V287M228.5 286V287M229.5 286V287M230.5 286V287M231.5 286V287M232.5 286V287M233.5 286V287M234.5 285V286M235.5 285V286M236.5 285V286M237.5 285V286M238.5 284V285M239.5 284V285M240.5 284V285M241.5 283V284M242.5 283V284M243.5 282V283M244.5 282V283M245.5 281V282M246.5 281V282M247.5 280V281M248.5 279V280M249.5 279V280M250.5 278V279M251.5 277V278M252.5 276V277M253.5 276V277M254.5 275V276M255.5 274V275M256.5 273V274M257.5 273V274M258.5 272V273M259.5 271V272M260.5 271V272M261.5 270V271M262.5 270V271M263.5 269V270M264.5 269V270M265.5 268V269M266.5 268V269M267.5 268V269M268.5 268V269M269.5 267V268M270.5 267V268M271.5 267V268M272.5 267V268M273.5 267V268M274.5 266V267M275.5 266V267M276.5 266V267M277.5 266V267M278.5 266V267M279.5 265V266M280.5 265V266M281.5 265V266M282.5 265V266M283.5 265V266M284.5 265V266M285.5 264V265M286.5 264V265M287.5 264V265M288.5 264V265M289.5 264V265M290.5 264V265M291.5 264V265M292.5 264V265M293.5 264V265M294.5 263V264M295.5 263V264M296.5 263V264M297.5 263V264M298.5 263V264M299.5 263V264M300.5 263V264M301.5 263V264M302.5 263V264M303.5 263V264M304.5 262V263M305.5 262V263M306.5 262V263M307.5 262V263M308.5 262V263M309.5 262V263M310.5 261V262M311.5 261V262M312.5 261V262M313.5 261V262M314.5 261V262M315.5 261V262M316.5 261V262M317.5 261V262M318.5 261V262M319.5 262V263M320.5 262V263M321.5 262V263M322.5 262V263M323.5 263V264M324.5 263V264M325.5 263V264M326.5 264V265M327.5 264V265M328.5 265V266M329.5 265V266M330.5 266V267M331.5 266V267M332.5 266V267M333.5 267V268M334.5 267V268M335.5 268V269M336.5 268V269M337.5 269V270M338.5 269V270M339.5 269V270M340.5 270V271M341.5 270V271M342.5 270V271M343.5 271V272M344.5 271V272M345.5 272V273M346.5 272V273M347.5 272V273M348.5 273V274M349.5 273V274M350.5 273V274M351.5 274V275M352.5 274V275M353.5 274V275M354.5 275V276M355.5 275V276M356.5 275V276M357.5 275V276M358.5 275V276M359.5 275V276M360.5 275V276M361.5 275V276M362.5 275V276M363.5 275V276M364.5 274V275M365.5 274V275M366.5 274V275M367.5 274V275M368.5 273V274M369.5 273V274M370.5 273V274M371.5 272V273M372.5 272V273M373.5 271V272M374.5 271V272M375.5 271V272M376.5 270V271M377.5 270V271M378.5 270V271M379.5 269V270M380.5 269V270M381.5 268V269M382.5 268V269M383.5 268V269M384.5 267V268M385.5 267V268M386.5 266V267M387.5 266V267M388.5 266V267M389.5 265V266M390.5 265V266M391.5 265V266M392.5 264V265M393.5 264V265M394.5 264V265M395.5 263V264M396.5 263V264M397.5 262V263M398.5 262V263M399.5 261V262M400.5 261V262M401.5 261V262M402.5 260V261M403.5 260V261M404.5 259V260M405.5 259V260M406.5 258V259M407.5 258V259M408.5 257V258M409.5 257V258M410.5 257V258M411.5 256V257M412.5 256V257M413.5 256V257M414.5 256V257M415.5 255V256M416.5 255V256M417.5 255V256M418.5 255V256M419.5 254V255M420.5 254V255M421.5 254V255M422.5 253V254M423.5 253V254M424.5 252V253M425.5 252V253M426.5 252V253M427.5 251V252M428.5 250V251M429.5 250V251M430.5 249V250M431.5 249V250M432.5 249V250M433.5 248V249M434.5 248V249M435.5 247V248M436.5 247V248M437.5 246V247M438.5 246V247M439.5 246V247M440.5 246V247M441.5 245V246M442.5 245V246M443.5 245V246M444.5 245V246M445.5 245V246M446.5 245V246M447.5 245V246M448.5 244V245M449.5 244V245M450.5 244V245M451.5 245V246M452.5 245V246M453.5 245V246M454.5 245V246M455.5 245V246M456.5 246V247M457.5 246V247M458.5 246V247M459.5 247V248M460.5 247V248M461.5 248V249M462.5 248V249M463.5 248V249M464.5 249V250M465.5 249V250M466.5 250V251M467.5 250V251M468.5 250V251M469.5 251V252M470.5 251V252M471.5 251V252M472.5 251V252M473.5 252V253M474.5 252V253M475.5 252V253M476.5 252V253M477.5 252V253M478.5 252V253M479.5 253V254M480.5 253V254M481.5 253V254M482.5 253V254M483.5 253V254M484.5 253V254M485.5 253V254M486.5 253V254M487.5 253V254M488.5 253V254M489.5 253V254M490.5 253V254M491.5 253V254M492.5 253V254M493.5 253V254M494.5 253V254M495.5 253V254M496.5 253V254M497.5 253V254M498.5 253V254M499.5 252V253M500.5 252V253M501.5 252V253M502.5 252V253M503.5 252V253M504.5 252V253M505.5 252V253M506.5 252V253M507.5 252V253M508.5 252V253M509.5 252V253M510.5 252V253M511.5 252V253M512.5 252V253M513.5 252V253M514.5 252V253M515.5 252V253M516.5 251V252M517.5 251V252M518.5 251V252M519.5 251V252M520.5 251V252M521.5 251V252M522.5 251V252M523.5 251V252M524.5 251V252M525.5 251V252M526.5 250V251M527.5 250V251M528.5 250V251M529.5 250V251M530.5 250V251M531.5 250V251M532.5 249V250M533.5 249V250M534.5 249V250M535.5 249V250M536.5 248V249M537.5 248V249M538.5 248V249M539.5 247V248M540.5 247V248M541.5 247V248M542.5 246V247M543.5 246V247M544.5 246V247M545.5 245V246M546.5 245V246M547.5 245V246M548.5 244V245M549.5 244V245M550.5 244V245M551.5 243V244M552.5 243V244M553.5 243V244M554.5 242V243M555.5 242V243M556.5 242V243M557.5 241V242M558.5 241V242M559.5 241V242M560.5 241V242M561.5 240V241M562.5 240V241M563.5 240V241M564.5 240V241M565.5 240V241M566.5 239V240M567.5 239V240M568.5 239V240M569.5 239V240M570.5 239V240M571.5 238V239M572.5 238V239M573.5 238V239M574.5 238V239M575.5 238V239M576.5 237V238M577.5 237V238M578.5 237V238M579.5 237V238M580.5 236V237M581.5 236V237M582.5 236V237M583.5 236V237M584.5 235V236M585.5 235V236M586.5 235V236M587.5 235V236M588.5 235V236M589.5 234V235M590.5 234V235M591.5 234V235M592.5 234V235M593.5 234V235M594.5 234V235M595.5 234V235M596.5 234V235M597.5 234V235M598.5 234V235M599.5 233V234M600.5 233V234M601.5 233V234M602.5 233V234M603.5 233V234M604.5 232V233M605.5 232V233M606.5 232V233M607.5 232V233M608.5 231V232M609.5 231V232M610.5 231V232M611.5 231V232M612.5 230V231M613.5 230V231M614.5 230V231M615.5 229V230M616.5 229V230M617.5 229V230M618.5 228V229M619.5 228V229M620.5 228V229M621.5 228V229M622.5 227V228M623.5 227V228M624.5 227V228M625.5 227V228M626.5 227V228M627.5 227V228M628.5 227V228M629.5 227V228M630.5 228V229M631.5 228V229M632.5 228V229M633.5 228V229M634.5 228V229M635.5 229V230M636.5 229V230M637.5 229V230M638.5 229V230M639.5 229V230M640.5 230V231M641.5 230V231M642.5 230V231M643.5 230V231M644.5 230V231M645.5 230V231M646.5 231V232M647.5 231V232M648.5 231V232M649.5 231V232M650.5 231V232M651.5 231V232M652.5 231V232M653.5 231V232M654.5 231V232M655.5 232V233M656.5 232V233M657.5 232V233M658.5 232V233M659.5 232V233M660.5 232V233M661.5 232V233M662.5 232V233M663.5 232V233M664.5 232V233M665.5 232V233M666.5 232V233M667.5 231V232M668.5 231V232M669.5 231V232M670.5 231V232M671.5 230V231M672.5 230V231M673.5 230V231M674.5 229V230M675.5 229V230M676.5 229V230M677.5 228V229M678.5 228V229M679.5 227V228M680.5 227V228M681.5 226V227M682.5 226V227M683.5 225V226M684.5 224V225M685.5 224V225M686.5 223V224M687.5 223V224M688.5 222V223M689.5 221V222M690.5 221V222M691.5 220V221M692.5 220V221M693.5 219V220M694.5 218V219M695.5 218V219M696.5 217V218M697.5 217V218M698.5 216V217M699.5 215V216M700.5 215V216M701.5 214V215M702.5 214V215M703.5 213V214M704.5 212V213M705.5 212V213M706.5 211V212M707.5 210V211M708.5 209V210M709.5 208V209M710.5 208V209M711.5 207V208M712.5 206V207M713.5 205V206M714.5 203V205M715.5 202V203M716.5 201V202M717.5 200V201M718.5 199V200M719.5 198V199M720.5 197V198M721.5 196V197M722.5 195V196M723.5 194V195M724.5 193V194M725.5 192V193M726.5 191V192M727.5 190V191M728.5 189V190M729.5 188V189M730.5 187V188M731.5 186V187M732.5 185V186M733.5 184V185M734.5 183V184M735.5 182V183M736.5 181V182M737.5 181V182M738.5 180V181M739.5 179V180M740.5 178V179M741.5 177V178M742.5 176V177M743.5 176V177M744.5 175V176M745.5 174V175M746.5 174V175M747.5 173V174M748.5 172V173M749.5 172V173M750.5 171V172M751.5 170V171M752.5 170V171M753.5 169V170M754.5 169V170M755.5 168V169M756.5 168V169M757.5 167V168M758.5 167V168M759.5 166V167M760.5 166V167M761.5 165V166M762.5 165V166M763.5 164V165M764.5 164V165M765.5 163V164M766.5 162V163M767.5 162V163M768.5 161V162M769.5 160V161M770.5 160V161M771.5 159V160M772.5 158V159M773.5 158V159M774.5 157V158M775.5 157V158M776.5 156V157M777.5 155V156M778.5 155V156M779.5 154V155M780.5 154V155M781.5 153V154M782.5 153V154M783.5 152V153M784.5 152V153M785.5 151V152M786.5 151V152M787.5 150V151M788.5 150V151M789.5 150V151M790.5 150V151M791.5 150V151M792.5 150V151M793.5 150V151M794.5 150V151M795.5 150V151M796.5 150V151M797.5 151V152M798.5 151V152M799.5 151V152M800.5 152V153M801.5 152V153M802.5 153V154M803.5 153V154M804.5 154V155M805.5 154V155M806.5 155V156M807.5 155V156M808.5 156V157M809.5 156V157M810.5 157V158M811.5 157V158M812.5 158V159M813.5 158V159M814.5 159V160M815.5 159V160M816.5 159V160M817.5 160V161M818.5 160V161M819.5 160V161M820.5 161V162M821.5 161V162M822.5 162V163M823.5 162V163M824.5 162V163M825.5 163V164M826.5 163V164M827.5 164V165M828.5 164V165M829.5 165V166M830.5 165V166M831.5 166V167M832.5 166V167M833.5 167V168M834.5 168V169M835.5 168V169M836.5 169V170M837.5 169V170M838.5 170V171M839.5 171V172M840.5 171V172M841.5 172V173M842.5 173V174M843.5 173V174M844.5 174V175M845.5 174V175M846.5 175V176M847.5 175V176M848.5 176V177M849.5 176V177M850.5 177V178M851.5 177V178M852.5 178V179M853.5 178V179M854.5 179V180M855.5 179V180M856.5 180V181M857.5 180V181M858.5 181V182M859.5 181V182M860.5 182V183M861.5 182V183M862.5 183V184M863.5 183V184M864.5 183V184M865.5 184V185M866.5 184V185M867.5 184V185M868.5 185V186M869.5 185V186M870.5 185V186M871.5 186V187M872.5 186V187M873.5 186V187M874.5 187V188M875.5 187V188M876.5 187V188M877.5 187V188M878.5 187V188M879.5 187V188M880.5 188V189M881.5 188V189M882.5 188V189M883.5 188V189M884.5 188V189M885.5 188V189M886.5 188V189M887.5 188V189M888.5 188V189M889.5 188V189M890.5 188V189M891.5 188V189M892.5 189V190M893.5 189V190M894.5 189V190M895.5 189V190M896.5 189V190M897.5 189V190M898.5 189V190M899.5 189V190M900.5 189V190M901.5 190V191M902.5 190V191M903.5 190V191M904.5 190V191M905.5 190V191M906.5 190V191M907.5 190V191M908.5 190V191M909.5 190V191M910.5 190V191M911.5 190V191M912.5 190V191M913.5 190V191M914.5 190V191M915.5 190V191M916.5 190V191M917.5 190V191M918.5 190V191M919.5 189V190M920.5 189V190M921.5 189V190M922.5 189V190M923.5 188V189M924.5 188V189M925.5 188V189M926.5 188V189M927.5 187V188M928.5 187V188M929.5 187V188M930.5 186V187M931.5 186V187M932.5 186V187M933.5 186V187M934.5 185V186M935.5 185V186M936.5 185V186M937.5 185V186M938.5 185V186M939.5 184V185M940.5 184V185M941.5 184V185M942.5 183V184M943.5 183V184M944.5 183V184M945.5 183V184M946.5 182V183M947.5 182V183M948.5 182V183M949.5 181V182M950.5 181V182M951.5 181V182M952.5 180V181M953.5 180V181M954.5 180V181M955.5 180V181M956.5 180V181M957.5 179V180M958.5 179V180M959.5 179V180M960.5 179V180M961.5 179V180M962.5 179V180M963.5 179V180M964.5 179V180M965.5 179V180M966.5 179V180M967.5 180V181M968.5 180V181M969.5 180V181M970.5 180V181M971.5 180V181M972.5 181V182M973.5 181V182M974.5 181V182M975.5 181V182M976.5 182V183M977.5 182V183M978.5 182V183M979.5 183V184M980.5 183V184M981.5 183V184M982.5 183V184M983.5 184V185M984.5 184V185M985.5 184V185M986.5 185V186M987.5 185V186M988.5 185V186M989.5 186V187M990.5 186V187M991.5 186V187M992.5 187V188M993.5 187V188M994.5 187V188M995.5 187V188M996.5 187V188M997.5 188V189M998.5 188V189M999.5 188V189M1000.5 189V190M1001.5 189V190M1002.5 189V190M1003.5 190V191M1004.5 190V191M1005.5 191V192M1006.5 191V192M1007.5 192V193M1008.5 192V193M1009.5 192V193M1010.5 193V194M1011.5 193V194M1012.5 194V195M1013.5 194V195M1014.5 194V195M1015.5 195V196M1016.5 195V196M1017.5 195V196M1018.5 196V197M1019.5 196V197M1020.5 196V197M1021.5 196V197M1022.5 197V198M1023.5 197V198M1024.5 197V198M1025.5 198V199M1026.5 198V199M1027.5 198V199M1028.5 198V199M1029.5 199V200M1030.5 199V200M1031.5 199V200M1032.5 199V200M1033.5 199V200M1034.5 199V200M1035.5 199V200M1036.5 200V201M1037.5 200V201M1038.5 200V201M1039.5 200V201M1040.5 199V200M1041.5 199V200M1042.5 199V200M1043.5 199V200M1044.5 199V200M1045.5 199V200M1046.5 198V199M1047.5 198V199M1048.5 198V199M1049.5 198V199M1050.5 198V199M1051.5 198V199M1052.5 198V199M1053.5 198V199M1054.5 197V198M1055.5 197V198M1056.5 197V198M1057.5 197V198M1058.5 197V198"/>
<path fill="none" stroke="#90ee90" stroke-width="1" shape-rendering="crispEdges" d="M3.5 392V393M4.5 393V394M5.5 393V394M6.5 393V394M7.5 393V394M8.5 394V395M9.5 394V395M10.5 394V395M11.5 395V396M12.5 395V396M13.5 395V396M14.5 395V396M15.5 396V397M16.5 396V397M17.5 396V397M18.5 397V398M19.5 397V398M20.5 397V398M21.5 397V398M22.5 397V398M23.5 397V398M24.5 397V398M25.5 397V398M26.5 396V397M27.5 396V397M28.5 395V396M29.5 394V395M30.5 393V394M31.5 393V394M32.5 392V393M33.5 391V392M34.5 390V391M35.5 389V390M36.5 389V390M37.5 388V389M38.5 388V389M39.5 387V388M40.5 386V387M41.5 386V387M42.5 386V387M43.5 385V386M44.5 385V386M45.5 385V386M46.5 384V385M47.5 384V385M48.5 384V385M49.5 385V386M50.5 385V386M51.5 385V386M52.5 386V387M53.5 386V387M54.5 387V388M55.5 387V388M56.5 388V389M57.5 388V389M58.5 387V388M59.5 387V388M60.5 386V387M61.5 386V387M62.5 385V386M63.5 384V385M64.5 383V384M65.5 382V383M66.5 381V382M67.5 381V382M68.5 380V381M69.5 379V380M70.5 378V379M71.5 378V379M72.5 377V378M73.5 376V377M74.5 376V377M75.5 375V376M76.5 374V375M77.5 374V375M78.5 373V374M79.5 372V373M80.5 372V373M81.5 371V372M82.5 371V372M83.5 370V371M84.5 370V371M85.5 370V371M86.5 369V370M87.5 369V370M88.5 369V370M89.5 369V370M90.5 369V370M91.5 368V369M92.5 368V369M93.5 368V369M94.5 368V369M95.5 368V369M96.5 368V369M97.5 368V369M98.5 368V369M99.5 368V369M100.5 368V369M101.5 368V369M102.5 368V369M103.5 368V369M104.5 367V368M105.5 367V368M106.5 367V368M107.5 367V368M108.5 366V367M109.5 366V367M110.5 365V366M111.5 365V366M112.5 364V365M113.5 363V364M114.5 363V364M115.5 362V363M116.5 361V362M117.5 360V361M118.5 360V361M119.5 359V360M120.5 358V359M121.5 358V359M122.5 357V358M123.5 356V357M124.5 356V357M125.5 355V356M126.5 354V355M127.5 353V354M128.5 352V353M129.5 350V352M130.5 348V350M131.5 346V348M132.5 344V346M133.5 341V344M134.5 339V341M135.5 336V339M136.5 334V336M137.5 332V334M138.5 330V332M139.5 328V330M140.5 326V328M141.5 325V326M142.5 323V325M143.5 321V323M144.5 320V321M145.5 318V320M146.5 316V318M147.5 313V316M148.5 311V313M149.5 309V311M150.5 307V309M151.5 305V307M152.5 303V305M153.5 302V303M154.5 300V302M155.5 298V300M156.5 297V298M157.5 295V297M158.5 294V295M159.5 293V294M160.5 292V293M161.5 291V292M162.5 291V292M163.5 290V291M164.5 290V291M165.5 290V291M166.5 289V290M167.5 289V290M168.5 289V290M169.5 288V289M170.5 288V289M171.5 288V289M172.5 287V288M173.5 287V288M174.5 287V288M175.5 287V288M176.5 286V287M177.5 286V287M178.5 285V286M179.5 284V285M180.5 284V285M181.5 283V284M182.5 282V283M183.5 281V282M184.5 280V281M185.5 279V280M186.5 278V279M187.5 277V278M188.5 276V277M189.5 275V276M190.5 274V275M191.5 273V274M192.5 272V273M193.5 271V272M194.5 271V272M195.5 270V271M196.5 269V270M197.5 269V270M198.5 268V269M199.5 268V269M200.5 268V269M201.5 267V268M202.5 267V268M203.5 267V268M204.5 266V267M205.5 266V267M206.5 266V267M207.5 266V267M208.5 266V267M209.5 266V267M210.5 266V267M211.5 266V267M212.5 266V267M213.5 266V267M214.5 266V267M215.5 266V267M216.5 266V267M217.5 266V267M218.5 266V267M219.5 267V268M220.5 267V268M221.5 267V268M222.5 267V268M223.5 267V268M224.5 267V268M225.5 268V269M226.5 268V269M227.5 268V269M228.5 268V269M229.5 268V269M230.5 268V269M231.5 268V269M232.5 268V269M233.5 268V269M234.5 268V269M235.5 268V269M236.5 268V269M237.5 268V269M238.5 268V269M239.5 267V268M240.5 267V268M241.5 266V267M242.5 266V267M243.5 265V266M244.5 265V266M245.5 264V265M246.5 263V264M247.5 263V264M248.5 262V263M249.5 261V262M250.5 260V261M251.5 259V260M252.5 258V259M253.5 258V259M254.5 257V258M255.5 256V257M256.5 255V256M257.5 254V255M258.5 253V254M259.5 253V254M260.5 252V253M261.5 252V253M262.5 251V252M263.5 251V252M264.5 251V252M265.5 250V251M266.5 250V251M267.5 250V251M268.5 250V251M269.5 250V251M270.5 250V251M271.5 250V251M272.5 250V251M273.5 250V251M274.5 250V251M275.5 251V252M276.5 251V252M277.5 251V252M278.5 251V252M279.5 252V253M280.5 252V253M281.5 252V253M282.5 252V253M283.5 252V253M284.5 252V253M285.5 251V252M286.5 251V252M287.5 251V252M288.5 251V252M289.5 251V252M290.5 251V252M291.5 250V251M292.5 250V251M293.5 250V251M294.5 251V252M295.5 251V252M296.5 251V252M297.5 251V252M298.5 251V252M299.5 251V252M300.5 251V252M301.5 251V252M302.5 251V252M303.5 251V252M304.5 251V252M305.5 251V252M306.5 251V252M307.5 251V252M308.5 251V252M309.5 250V251M310.5 250V251M311.5 250V251M312.5 250V251M313.5 251V252M314.5 251V252M315.5 251V252M316.5 252V253M317.5 252V253M318.5 253V254M319.5 254V255M320.5 254V255M321.5 255V256M322.5 256V257M323.5 256V257M324.5 257V258M325.5 258V259M326.5 259V260M327.5 260V261M328.5 260V261M329.5 261V262M330.5 262V263M331.5 263V264M332.5 263V264M333.5 264V265M334.5 265V266M335.5 265V266M336.5 266V267M337.5 266V267M338.5 267V268M339.5 267V268M340.5 268V269M341.5 268V269M342.5 269V270M343.5 269V270M344.5 270V271M345.5 270V271M346.5 270V271M347.5 271V272M348.5 271V272M349.5 272V273M350.5 272V273M351.5 273V274M352.5 273V274M353.5 273V274M354.5 274V275M355.5 274V275M356.5 274V275M357.5 274V275M358.5 274V275M359.5 274V275M360.5 274V275M361.5 273V274M362.5 273V274M363.5 273V274M364.5 273V274M365.5 272V273M366.5 272V273M367.5 271V272M368.5 271V272M369.5 270V271M370.5 270V271M371.5 269V270M372.5 269V270M373.5 268V269M374.5 268V269M375.5 267V268M376.5 266V267M377.5 266V267M378.5 265V266M379.5 265V266M380.5 264V265M381.5 264V265M382.5 263V264M383.5 263V264M384.5 262V263M385.5 262V263M386.5 262V263M387.5 261V262M388.5 261V262M389.5 261V262M390.5 261V262M391.5 261V262M392.5 260V261M393.5 260V261M394.5 260V261M395.5 260V261M396.5 260V261M397.5 260V261M398.5 259V260M399.5 259V260M400.5 259V260M401.5 258V259M402.5 257V258M403.5 257V258M404.5 256V257M405.5 255V256M406.5 255V256M407.5 254V255M408.5 253V254M409.5 253V254M410.5 252V253M411.5 251V252M412.5 251V252M413.5 250V251M414.5 249V250M415.5 249V250M416.5 248V249M417.5 247V248M418.5 247V248M419.5 246V247M420.5 245V246M421.5 245V246M422.5 244V245M423.5 243V244M424.5 243V244M425.5 242V243M426.5 241V242M427.5 241V242M428.5 240V241M429.5 239V240M430.5 239V240M431.5 238V239M432.5 238V239M433.5 237V238M434.5 237V238M435.5 237V238M436.5 236V237M437.5 236V237M438.5 236V237M439.5 236V237M440.5 236V237M441.5 236V237M442.5 235V236M443.5 236V237M444.5 236V237M445.5 236V237M446.5 236V237M447.5 236V237M448.5 236V237M449.5 236V237M450.5 237V238M451.5 237V238M452.5 237V238M453.5 238V239M454.5 239V240M455.5 239V240M456.5 240V241M457.5 241V242M458.5 241V242M459.5 242V243M460.5 243V244M461.5 244V245M462.5 245V246M463.5 245V246M464.5 246V247M465.5 247V248M466.5 248V249M467.5 248V249M468.5 249V250M469.5 249V250M470.5 250V251M471.5 250V251M472.5 250V251M473.5 251V252M474.5 251V252M475.5 251V252M476.5 251V252M477.5 252V253M478.5 252V253M479.5 252V253M480.5 252V253M481.5 252V253M482.5 252V253M483.5 252V253M484.5 252V253M485.5 252V253M486.5 252V253M487.5 252V253M488.5 252V253M489.5 252V253M490.5 252V253M491.5 252V253M492.5 252V253M493.5 252V253M494.5 252V253M495.5 252V253M496.5 252V253M497.5 252V253M498.5 252V253M499.5 252V253M500.5 252V253M501.5 252V253M502.5 252V253M503.5 251V252M504.5 251V252M505.5 251V252M506.5 251V252M507.5 251V252M508.5 251V252M509.5 251V252M510.5 251V252M511.5 251V252M512.5 250V251M513.5 250V251M514.5 250V251M515.5 250V251M516.5 250V251M517.5 250V251M518.5 250V251M519.5 250V251M520.5 250V251M521.5 250V251M522.5 250V251M523.5 250V251M524.5 250V251M525.5 250V251M526.5 249V250M527.5 249V250M528.5 249V250M529.5 249V250M530.5 249V250M531.5 248V249M532.5 248V249M533.5 247V248M534.5 247V248M535.5 246V247M536.5 246V247M537.5 245V246M538.5 245V246M539.5 244V245M540.5 243V244M541.5 243V244M542.5 242V243M543.5 242V243M544.5 241V242M545.5 241V242M546.5 240V241M547.5 240V241M548.5 239V240M549.5 239V240M550.5 238V239M551.5 238V239M552.5 238V239M553.5 237V238M554.5 237V238M555.5 237V238M556.5 236V237M557.5 236V237M558.5 236V237M559.5 235V236M560.5 235V236M561.5 235V236M562.5 235V236M563.5 234V235M564.5 234V235M565.5 234V235M566.5 234V235M567.5 233V234M568.5 233V234M569.5 233V234M570.5 233V234M571.5 233V234M572.5 232V233M573.5 232V233M574.5 232V233M575.5 232V233M576.5 231V232M577.5 231V232M578.5 231V232M579.5 230V231M580.5 230V231M581.5 230V231M582.5 230V231M583.5 229V230M584.5 229V230M585.5 229V230M586.5 229V230M587.5 229V230M588.5 229V230M589.5 229V230M590.5 228V229M591.5 228V229M592.5 228V229M593.5 228V229M594.5 228V229M595.5 228V229M596.5 228V229M597.5 228V229M598.5 228V229M599.5 228V229M600.5 228V229M601.5 228V229M602.5 227V228M603.5 227V228M604.5 227V228M605.5 226V227M606.5 226V227M607.5 225V226M608.5 225V226M609.5 224V225M610.5 224V225M611.5 224V225M612.5 223V224M613.5 223V224M614.5 222V223M615.5 222V223M616.5 222V223M617.5 222V223M618.5 221V222M619.5 221V222M620.5 221V222M621.5 221V222M622.5 220V221M623.5 220V221M624.5 220V221M625.5 220V221M626.5 220V221M627.5 221V222M628.5 221V222M629.5 221V222M630.5 222V223M631.5 222V223M632.5 223V224M633.5 223V224M634.5 224V225M635.5 224V225M636.5 225V226M637.5 225V226M638.5 226V227M639.5 226V227M640.5 227V228M641.5 227V228M642.5 227V228M643.5 228V229M644.5 228V229M645.5 228V229M646.5 228V229M647.5 229V230M648.5 229V230M649.5 229V230M650.5 229V230M651.5 229V230M652.5 229V230M653.5 230V231M654.5 230V231M655.5 230V231M656.5 231V232M657.5 231V232M658.5 231V232M659.5 231V232M660.5 232V233M661.5 232V233M662.5 232V233M663.5 232V233M664.5 232V233M665.5 231V232M666.5 231V232M667.5 230V231M668.5 230V231M669.5 229V230M670.5 229V230M671.5 228V229M672.5 227V228M673.5 227V228M674.5 226V227M675.5 225V226M676.5 225V226M677.5 224V225M678.5 224V225M679.5 223V224M680.5 222V223M681.5 222V223M682.5 221V222M683.5 220V221M684.5 219V220M685.5 219V220M686.5 218V219M687.5 217V218M688.5 216V217M689.5 215V216M690.5 213V215M691.5 212V213M692.5 211V212M693.5 210V211M694.5 209V210M695.5 208V209M696.5 207V208M697.5 207V208M698.5 206V207M699.5 205V206M700.5 204V205M701.5 203V204M702.5 202V203M703.5 201V202M704.5 201V202M705.5 200V201M706.5 199V200M707.5 198V199M708.5 197V198M709.5 197V198M710.5 196V197M711.5 195V196M712.5 193V195M713.5 192V193M714.5 190V192M715.5 189V190M716.5 187V189M717.5 185V187M718.5 183V185M719.5 182V183M720.5 180V182M721.5 179V180M722.5 178V179M723.5 176V178M724.5 175V176M725.5 174V175M726.5 173V174M727.5 172V173M728.5 170V172M729.5 169V170M730.5 168V169M731.5 167V168M732.5 165V167M733.5 164V165M734.5 163V164M735.5 162V163M736.5 161V162M737.5 160V161M738.5 159V160M739.5 157V159M740.5 156V157M741.5 155V156M742.5 155V156M743.5 154V155M744.5 153V154M745.5 152V153M746.5 151V152M747.5 151V152M748.5 150V151M749.5 150V151M750.5 149V150M751.5 148V149M752.5 148V149M753.5 147V148M754.5 147V148M755.5 146V147M756.5 146V147M757.5 145V146M758.5 145V146M759.5 144V145M760.5 144V145M761.5 143V144M762.5 143V144M763.5 142V143M764.5 142V143M765.5 141V142M766.5 141V142M767.5 140V141M768.5 139V140M769.5 139V140M770.5 138V139M771.5 137V138M772.5 137V138M773.5 136V137M774.5 136V137M775.5 135V136M776.5 134V135M777.5 134V135M778.5 133V134M779.5 133V134M780.5 132V133M781.5 132V133M782.5 131V132M783.5 131V132M784.5 131V132M785.5 130V131M786.5 130V131M787.5 130V131M788.5 129V130M789.5 129V130M790.5 129V130M791.5 129V130M792.5 130V131M793.5 130V131M794.5 131V132M795.5 132V133M796.5 132V133M797.5 133V134M798.5 134V135M799.5 135V136M800.5 136V137M801.5 137V138M802.5 138V139M803.5 139V140M804.5 140V141M805.5 141V142M806.5 142V143M807.5 143V144M808.5 144V145M809.5 145V146M810.5 146V147M811.5 147V148M812.5 148V149M813.5 149V150M814.5 150V151M815.5 151V152M816.5 152V153M817.5 153V154M818.5 154V155M819.5 155V156M820.5 156V157M821.5 156V157M822.5 157V158M823.5 158V159M824.5 159V160M825.5 160V161M826.5 161V162M827.5 162V163M828.5 163V164M829.5 164V165M830.5 164V165M831.5 165V166M832.5 166V167M833.5 167V168M834.5 168V169M835.5 169V170M836.5 170V171M837.5 171V172M838.5 171V172M839.5 172V173M840.5 173V174M841.5 174V175M842.5 175V176M843.5 176V177M844.5 177V178M845.5 177V178M846.5 178V179M847.5 179V180M848.5 180V181M849.5 180V181M850.5 181V182M851.5 182V183M852.5 183V184M853.5 183V184M854.5 184V185M855.5 185V186M856.5 185V186M857.5 186V187M858.5 187V188M859.5 188V189M860.5 188V189M861.5 189V190M862.5 189V190M863.5 190V191M864.5 190V191M865.5 191V192M866.5 191V192M867.5 192V193M868.5 192V193M869.5 192V193M870.5 193V194M871.5 193V194M872.5 193V194M873.5 193V194M874.5 193V194M875.5 194V195M876.5 194V195M877.5 194V195M878.5 194V195M879.5 194V195M880.5 194V195M881.5 194V195M882.5 194V195M883.5 194V195M884.5 194V195M885.5 194V195M886.5 194V195M887.5 194V195M888.5 194V195M889.5 195V196M890.5 195V196M891.5 195V196M892.5 195V196M893.5 195V196M894.5 195V196M895.5 195V196M896.5 195V196M897.5 195V196M898.5 195V196M899.5 195V196M900.5 196V197M901.5 196V197M902.5 196V197M903.5 196V197M904.5 197V198M905.5 197V198M906.5 197V198M907.5 197V198M908.5 197V198M909.5 197V198M910.5 196V197M911.5 196V197M912.5 196V197M913.5 196V197M914.5 195V196M915.5 195V196M916.5 194V195M917.5 194V195M918.5 194V195M919.5 193V194M920.5 193V194M921.5 192V193M922.5 191V192M923.5 191V192M924.5 190V191M925.5 190V191M926.5 189V190M927.5 189V190M928.5 188V189M929.5 188V189M930.5 187V188M931.5 187V188M932.5 186V187M933.5 186V187M934.5 185V186M935.5 185V186M936.5 185V186M937.5 184V185M938.5 184V185M939.5 184V185M940.5 183V184M941.5 183V184M942.5 183V184M943.5 182V183M944.5 182V183M945.5 181V182M946.5 181V182M947.5 180V181M948.5 180V181M949.5 180V181M950.5 179V180M951.5 179V180M952.5 178V179M953.5 178V179M954.5 178V179M955.5 177V178M956.5 177V178M957.5 177V178M958.5 177V178M959.5 176V177M960.5 176V177M961.5 176V177M962.5 176V177M963.5 177V178M964.5 177V178M965.5 177V178M966.5 177V178M967.5 178V179M968.5 178V179M969.5 178V179M970.5 179V180M971.5 179V180M972.5 180V181M973.5 180V181M974.5 180V181M975.5 181V182M976.5 181V182M977.5 182V183M978.5 182V183M979.5 183V184M980.5 183V184M981.5 183V184M982.5 184V185M983.5 184V185M984.5 184V185M985.5 185V186M986.5 185V186M987.5 186V187M988.5 186V187M989.5 186V187M990.5 187V188M991.5 187V188M992.5 187V188M993.5 187V188M994.5 188V189M995.5 188V189M996.5 188V189M997.5 189V190M998.5 189V190M999.5 189V190M1000.5 190V191M1001.5 190V191M1002.5 191V192M1003.5 191V192M1004.5 192V193M1005.5 192V193M1006.5 193V194M1007.5 194V195M1008.5 194V195M1009.5 195V196M1010.5 195V196M1011.5 196V197M1012.5 197V198M1013.5 197V198M1014.5 198V199M1015.5 198V199M1016.5 199V200M1017.5 199V200M1018.5 200V201M1019.5 200V201M1020.5 201V202M1021.5 201V202M1022.5 201V202M1023.5 202V203M1024.5 202V203M1025.5 203V204M1026.5 203V204M1027.5 203V204M1028.5 204V205M1029.5 204V205M1030.5 204V205M1031.5 205V206M1032.5 205V206M1033.5 206V207M1034.5 206V207M1035.5 206V207M1036.5 207V208M1037.5 207V208M1038.5 207V208M1039.5 207V208M1040.5 207V208M1041.5 207V208M1042.5 207V208M1043.5 206V207M1044.5 206V207M1045.5 205V206M1046.5 205V206M1047.5 205V206M1048.5 204V205M1049.5 204V205M1050.5 204V205M1051.5 204V205M1052.5 203V204M1053.5 203V204M1054.5 203V204M1055.5 203V204M1056.5 203V204M1057.5 203V204M1058.5 203V204"/>
<line x1="311.7" y1="234.4" x2="344.9" y2="280.3" stroke="#000" stroke-width="1" shape-rendering="crispEdges"/>
<line x1="270" y1="280.3" x2="339" y2="320" stroke="#000" stroke-width="1" shape-rendering="crispEdges"/>
<line x1="845" y1="201" x2="889.5" y2="179.4" stroke="#000" stroke-width="1" shape-rendering="crispEdges"/>
<line x1="868" y1="237" x2="889" y2="199" stroke="#000" stroke-width="1" shape-rendering="crispEdges"/>
<line x1="1010.4" y1="250.2" x2="1024" y2="228.6" stroke="#000" stroke-width="1" shape-rendering="crispEdges"/>
<line x1="1006" y1="212.7" x2="1023.8" y2="211.1" stroke="#000" stroke-width="1" shape-rendering="crispEdges"/>
<g shape-rendering="crispEdges" fill="#fff" stroke="#f00" stroke-width="1">
<path d="M992 178.5H1002" fill="none"/>
<rect x="1002.5" y="172.5" width="30" height="12"/>
<path d="M1015 208.5H1025" fill="none"/>
<rect x="984.5" y="202.5" width="30" height="12"/>
</g>
<text class="ax" x="1004.3" y="182" fill="#f00" style="fill:#f00;stroke:#f00" textLength="27.6" lengthAdjust="spacingAndGlyphs">1.3929</text>
<text class="ax" x="986.3" y="212" fill="#f00" style="fill:#f00;stroke:#f00" textLength="27.6" lengthAdjust="spacingAndGlyphs">1.3753</text>
<path d="M3.5 533V547M4.5 533V549M5.5 533V551M6.5 533V553M7.5 533V553M8.5 533V553M9.5 533V553M10.5 533V553M11.5 533V551M12.5 533V549M13.5 533V547M14.5 533V546M15.5 533V544M16.5 533V543M17.5 533V541M18.5 533V540M19.5 533V539M20.5 533V537M21.5 533V536M22.5 533V535M23.5 533V534M25.5 527V532M26.5 522V532M27.5 519V532M28.5 517V532M29.5 514V532M30.5 512V532M31.5 511V532M32.5 510V532M33.5 510V532M34.5 509V532M35.5 507V532M36.5 504V532M37.5 502V532M38.5 503V532M39.5 505V532M40.5 507V532M41.5 510V532M42.5 513V532M43.5 515V532M44.5 518V532M45.5 521V532M46.5 523V532M47.5 526V532M48.5 530V532M49.5 533V534M50.5 533V537M51.5 533V540M52.5 533V543M53.5 533V545M54.5 533V547M55.5 533V550M56.5 533V552M57.5 533V550M58.5 533V546M59.5 533V540M61.5 527V532M62.5 523V532M63.5 519V532M64.5 517V532M65.5 515V532M66.5 515V532M67.5 514V532M68.5 514V532M69.5 516V532M70.5 517V532M71.5 519V532M72.5 520V532M73.5 520V532M74.5 520V532M75.5 519V532M76.5 518V532M77.5 518V532M78.5 517V532M79.5 517V532M80.5 517V532M81.5 516V532M82.5 515V532M83.5 514V532M84.5 517V532M85.5 520V532M86.5 523V532M87.5 525V532M88.5 527V532M89.5 529V532M90.5 530V532M92.5 533V535M93.5 533V538M94.5 533V539M95.5 533V539M96.5 533V539M97.5 533V538M98.5 533V538M99.5 533V538M100.5 533V538M101.5 533V539M102.5 533V540M103.5 533V542M104.5 533V540M105.5 533V538M106.5 533V537M107.5 533V535M109.5 528V532M110.5 525V532M111.5 524V532M112.5 524V532M113.5 523V532M114.5 522V532M115.5 520V532M116.5 518V532M117.5 515V532M118.5 513V532M119.5 512V532M120.5 511V532M121.5 511V532M122.5 514V532M123.5 516V532M124.5 518V532M125.5 516V532M126.5 515V532M127.5 514V532M128.5 512V532M129.5 510V532M130.5 508V532M131.5 504V532M132.5 499V532M133.5 494V532M134.5 489V532M135.5 483V532M136.5 479V532M137.5 479V532M138.5 479V532M139.5 478V532M140.5 479V532M141.5 480V532M142.5 482V532M143.5 482V532M144.5 482V532M145.5 482V532M146.5 482V532M147.5 482V532M148.5 483V532M149.5 485V532M150.5 487V532M151.5 491V532M152.5 495V532M153.5 499V532M154.5 503V532M155.5 507V532M156.5 511V532M157.5 514V532M158.5 516V532M159.5 519V532M160.5 520V532M161.5 521V532M162.5 522V532M163.5 524V532M164.5 527V532M165.5 531V532M166.5 533V538M167.5 533V545M168.5 533V548M169.5 533V551M170.5 533V553M171.5 533V555M172.5 533V557M173.5 533V556M174.5 533V555M175.5 533V553M176.5 533V551M177.5 533V550M178.5 533V548M179.5 533V547M180.5 533V544M181.5 533V542M182.5 533V539M183.5 533V536M184.5 533V534M185.5 530V532M186.5 526V532M187.5 523V532M188.5 522V532M189.5 521V532M190.5 521V532M191.5 520V532M192.5 519V532M193.5 519V532M194.5 518V532M195.5 518V532M196.5 518V532M197.5 519V532M198.5 520V532M199.5 521V532M200.5 522V532M201.5 523V532M202.5 524V532M203.5 525V532M204.5 525V532M205.5 526V532M206.5 527V532M207.5 528V532M208.5 530V532M209.5 533V534M210.5 533V538M211.5 533V542M212.5 533V543M213.5 533V544M214.5 533V545M215.5 533V546M216.5 533V546M217.5 533V545M218.5 533V545M219.5 533V545M220.5 533V545M221.5 533V546M222.5 533V547M223.5 533V548M224.5 533V548M225.5 533V549M226.5 533V549M227.5 533V550M228.5 533V548M229.5 533V547M230.5 533V545M231.5 533V544M232.5 533V542M233.5 533V541M234.5 533V540M235.5 533V539M236.5 533V538M237.5 533V537M238.5 533V536M239.5 533V534M241.5 528V532M242.5 524V532M243.5 522V532M244.5 520V532M245.5 519V532M246.5 517V532M247.5 516V532M248.5 516V532M249.5 515V532M250.5 515V532M251.5 511V532M252.5 507V532M253.5 503V532M254.5 503V532M255.5 504V532M256.5 506V532M257.5 507V532M258.5 508V532M259.5 509V532M260.5 510V532M261.5 511V532M262.5 512V532M263.5 514V532M264.5 515V532M265.5 517V532M266.5 522V532M267.5 528V532M269.5 533V537M270.5 533V542M271.5 533V543M272.5 533V544M273.5 533V545M274.5 533V546M275.5 533V547M276.5 533V548M277.5 533V549M278.5 533V550M279.5 533V551M280.5 533V553M281.5 533V551M282.5 533V549M283.5 533V547M284.5 533V543M285.5 533V539M286.5 533V535M288.5 530V532M289.5 529V532M290.5 528V532M291.5 527V532M292.5 529V532M294.5 533V537M295.5 533V540M296.5 533V541M297.5 533V542M298.5 533V541M299.5 533V539M300.5 533V538M301.5 533V539M302.5 533V539M303.5 533V538M304.5 533V537M305.5 533V535M307.5 530V532M308.5 527V532M309.5 526V532M310.5 525V532M311.5 525V532M312.5 529V532M313.5 531V532M314.5 533V534M315.5 533V536M316.5 533V539M317.5 533V541M318.5 533V543M319.5 533V545M320.5 533V547M321.5 533V549M322.5 533V551M323.5 533V552M324.5 533V554M325.5 533V555M326.5 533V557M327.5 533V558M328.5 533V559M329.5 533V560M330.5 533V560M331.5 533V558M332.5 533V556M333.5 533V554M334.5 533V552M335.5 533V550M336.5 533V548M337.5 533V546M338.5 533V545M339.5 533V544M340.5 533V543M341.5 533V544M342.5 533V544M343.5 533V545M344.5 533V545M345.5 533V545M346.5 533V545M347.5 533V545M348.5 533V544M349.5 533V544M350.5 533V544M351.5 533V543M352.5 533V543M353.5 533V542M354.5 533V540M355.5 533V538M356.5 533V536M358.5 528V532M359.5 525V532M360.5 523V532M361.5 521V532M362.5 519V532M363.5 517V532M364.5 515V532M365.5 513V532M366.5 511V532M367.5 510V532M368.5 509V532M369.5 508V532M370.5 508V532M371.5 507V532M372.5 507V532M373.5 507V532M374.5 507V532M375.5 508V532M376.5 509V532M377.5 510V532M378.5 511V532M379.5 511V532M380.5 511V532M381.5 512V532M382.5 512V532M383.5 512V532M384.5 512V532M385.5 513V532M386.5 516V532M387.5 519V532M388.5 521V532M389.5 524V532M390.5 527V532M391.5 529V532M392.5 531V532M393.5 533V534M394.5 533V534M395.5 533V535M396.5 533V534M397.5 533V534M398.5 533V534M399.5 529V532M400.5 524V532M401.5 521V532M402.5 519V532M403.5 518V532M404.5 519V532M405.5 521V532M406.5 522V532M407.5 521V532M408.5 521V532M409.5 521V532M410.5 520V532M411.5 520V532M412.5 520V532M413.5 519V532M414.5 519V532M415.5 519V532M416.5 517V532M417.5 515V532M418.5 513V532M419.5 512V532M420.5 510V532M421.5 509V532M422.5 512V532M423.5 515V532M424.5 517V532M425.5 519V532M426.5 519V532M427.5 519V532M428.5 520V532M429.5 520V532M430.5 521V532M431.5 523V532M432.5 525V532M433.5 527V532M434.5 528V532M435.5 529V532M436.5 530V532M437.5 531V532M439.5 533V535M440.5 533V538M441.5 533V541M442.5 533V543M443.5 533V546M444.5 533V547M445.5 533V547M446.5 533V547M447.5 533V546M448.5 533V545M449.5 533V544M450.5 533V544M451.5 533V545M452.5 533V546M453.5 533V549M454.5 533V551M455.5 533V554M456.5 533V556M457.5 533V559M458.5 533V562M459.5 533V564M460.5 533V566M461.5 533V567M462.5 533V567M463.5 533V564M464.5 533V561M465.5 533V558M466.5 533V556M467.5 533V553M468.5 533V551M469.5 533V548M470.5 533V546M471.5 533V543M472.5 533V541M473.5 533V538M474.5 533V535M476.5 531V532M477.5 530V532M478.5 529V532M479.5 528V532M480.5 527V532M481.5 528V532M482.5 529V532M483.5 531V532M484.5 530V532M485.5 530V532M486.5 530V532M487.5 530V532M488.5 529V532M489.5 529V532M490.5 529V532M491.5 529V532M492.5 528V532M493.5 526V532M494.5 525V532M495.5 526V532M496.5 527V532M497.5 527V532M498.5 527V532M499.5 527V532M500.5 527V532M501.5 527V532M502.5 526V532M503.5 526V532M504.5 525V532M505.5 525V532M506.5 524V532M507.5 523V532M508.5 522V532M509.5 523V532M510.5 524V532M511.5 526V532M512.5 527V532M513.5 529V532M514.5 530V532M515.5 529V532M516.5 529V532M517.5 529V532M518.5 529V532M519.5 528V532M520.5 527V532M521.5 527V532M522.5 526V532M523.5 526V532M524.5 526V532M525.5 527V532M526.5 527V532M527.5 527V532M528.5 527V532M529.5 527V532M530.5 527V532M531.5 527V532M532.5 527V532M533.5 527V532M534.5 527V532M535.5 524V532M536.5 521V532M537.5 519V532M538.5 515V532M539.5 512V532M540.5 512V532M541.5 512V532M542.5 511V532M543.5 514V532M544.5 517V532M545.5 518V532M546.5 519V532M547.5 520V532M548.5 521V532M549.5 521V532M550.5 522V532M551.5 523V532M552.5 523V532M553.5 524V532M554.5 525V532M555.5 525V532M556.5 526V532M557.5 527V532M558.5 529V532M559.5 531V532M561.5 533V535M562.5 533V535M563.5 533V535M564.5 533V534M567.5 531V532M568.5 531V532M569.5 531V532M570.5 531V532M571.5 531V532M572.5 531V532M576.5 530V532M577.5 528V532M578.5 527V532M579.5 526V532M580.5 526V532M581.5 525V532M582.5 525V532M583.5 526V532M584.5 526V532M585.5 527V532M586.5 528V532M587.5 529V532M588.5 529V532M589.5 530V532M590.5 531V532M591.5 531V532M592.5 531V532M595.5 533V535M596.5 533V536M597.5 533V537M598.5 533V537M599.5 533V538M600.5 533V538M601.5 533V538M602.5 533V537M603.5 533V536M604.5 533V535M605.5 533V534M606.5 533V534M607.5 531V532M608.5 529V532M609.5 527V532M610.5 525V532M611.5 523V532M612.5 521V532M613.5 519V532M614.5 518V532M615.5 517V532M616.5 516V532M617.5 516V532M618.5 518V532M619.5 520V532M620.5 522V532M621.5 524V532M622.5 526V532M623.5 527V532M624.5 529V532M625.5 530V532M627.5 533V536M628.5 533V538M629.5 533V541M630.5 533V543M631.5 533V545M632.5 533V547M633.5 533V549M634.5 533V551M635.5 533V553M636.5 533V555M637.5 533V555M638.5 533V554M639.5 533V552M640.5 533V551M641.5 533V550M642.5 533V548M643.5 533V547M644.5 533V545M645.5 533V544M646.5 533V543M647.5 533V542M648.5 533V540M649.5 533V539M650.5 533V539M651.5 533V538M652.5 533V539M653.5 533V540M654.5 533V541M655.5 533V541M656.5 533V542M657.5 533V542M658.5 533V542M659.5 533V542M660.5 533V541M661.5 533V540M662.5 533V538M663.5 533V534M664.5 529V532M665.5 524V532M666.5 521V532M667.5 519V532M668.5 517V532M669.5 515V532M670.5 514V532M671.5 512V532M672.5 511V532M673.5 510V532M674.5 510V532M675.5 509V532M676.5 509V532M677.5 508V532M678.5 508V532M679.5 507V532M680.5 507V532M681.5 506V532M682.5 507V532M683.5 509V532M684.5 510V532M685.5 511V532M686.5 512V532M687.5 512V532M688.5 512V532M689.5 512V532M690.5 511V532M691.5 509V532M692.5 508V532M693.5 509V532M694.5 511V532M695.5 511V532M696.5 512V532M697.5 512V532M698.5 513V532M699.5 514V532M700.5 514V532M701.5 515V532M702.5 515V532M703.5 515V532M704.5 516V532M705.5 515V532M706.5 514V532M707.5 513V532M708.5 512V532M709.5 511V532M710.5 510V532M711.5 508V532M712.5 507V532M713.5 505V532M714.5 502V532M715.5 499V532M716.5 498V532M717.5 498V532M718.5 497V532M719.5 497V532M720.5 498V532M721.5 499V532M722.5 500V532M723.5 502V532M724.5 503V532M725.5 505V532M726.5 506V532M727.5 507V532M728.5 508V532M729.5 510V532M730.5 511V532M731.5 512V532M732.5 513V532M733.5 515V532M734.5 516V532M735.5 517V532M736.5 518V532M737.5 519V532M738.5 520V532M739.5 521V532M740.5 522V532M741.5 523V532M742.5 521V532M743.5 520V532M744.5 519V532M745.5 519V532M746.5 523V532M747.5 526V532M748.5 527V532M749.5 529V532M750.5 531V532M751.5 533V534M752.5 533V536M753.5 533V539M754.5 533V541M755.5 533V543M756.5 533V545M757.5 533V545M758.5 533V546M759.5 533V547M760.5 533V545M761.5 533V544M762.5 533V543M763.5 533V538M765.5 528V532M766.5 524V532M767.5 525V532M768.5 526V532M769.5 527V532M770.5 526V532M771.5 525V532M772.5 524V532M773.5 523V532M774.5 525V532M775.5 526V532M776.5 528V532M777.5 529V532M778.5 530V532M779.5 531V532M782.5 533V534M783.5 533V535M784.5 533V535M785.5 533V535M786.5 533V535M787.5 533V537M788.5 533V540M789.5 533V542M790.5 533V542M791.5 533V542M792.5 533V544M793.5 533V549M794.5 533V554M795.5 533V559M796.5 533V562M797.5 533V565M798.5 533V569M799.5 533V570M800.5 533V571M801.5 533V573M802.5 533V573M803.5 533V571M804.5 533V570M805.5 533V569M806.5 533V568M807.5 533V567M808.5 533V566M809.5 533V565M810.5 533V563M811.5 533V562M812.5 533V560M813.5 533V558M814.5 533V554M815.5 533V550M816.5 533V546M817.5 533V544M818.5 533V542M819.5 533V541M820.5 533V540M821.5 533V539M822.5 533V539M823.5 533V541M824.5 533V543M825.5 533V545M826.5 533V547M827.5 533V547M828.5 533V547M829.5 533V547M830.5 533V548M831.5 533V549M832.5 533V551M833.5 533V552M834.5 533V552M835.5 533V553M836.5 533V553M837.5 533V554M838.5 533V555M839.5 533V556M840.5 533V557M841.5 533V556M842.5 533V554M843.5 533V552M844.5 533V550M845.5 533V548M846.5 533V547M847.5 533V545M848.5 533V544M849.5 533V544M850.5 533V544M851.5 533V545M852.5 533V545M853.5 533V546M854.5 533V546M855.5 533V545M856.5 533V544M857.5 533V542M858.5 533V541M859.5 533V539M860.5 533V538M861.5 533V536M862.5 533V535M865.5 531V532M867.5 533V536M868.5 533V537M869.5 533V536M870.5 533V535M872.5 529V532M873.5 525V532M874.5 524V532M875.5 523V532M876.5 523V532M877.5 523V532M878.5 524V532M879.5 524V532M880.5 525V532M881.5 525V532M882.5 524V532M883.5 524V532M884.5 524V532M885.5 524V532M886.5 523V532M887.5 522V532M888.5 520V532M889.5 520V532M890.5 520V532M891.5 520V532M892.5 522V532M893.5 524V532M894.5 527V532M895.5 528V532M896.5 528V532M897.5 529V532M898.5 529V532M899.5 528V532M900.5 528V532M901.5 527V532M902.5 526V532M903.5 526V532M904.5 527V532M905.5 528V532M906.5 529V532M907.5 529V532M908.5 530V532M909.5 530V532M910.5 531V532M911.5 530V532M912.5 530V532M913.5 528V532M914.5 526V532M915.5 524V532M916.5 522V532M917.5 521V532M918.5 520V532M919.5 520V532M920.5 519V532M921.5 519V532M922.5 519V532M923.5 519V532M924.5 518V532M925.5 517V532M926.5 516V532M927.5 515V532M928.5 514V532M929.5 515V532M930.5 516V532M931.5 517V532M932.5 518V532M933.5 519V532M934.5 520V532M935.5 522V532M936.5 523V532M937.5 525V532M938.5 525V532M939.5 525V532M940.5 525V532M941.5 523V532M942.5 522V532M943.5 520V532M944.5 520V532M945.5 521V532M946.5 521V532M947.5 522V532M948.5 523V532M949.5 524V532M950.5 525V532M951.5 526V532M952.5 526V532M953.5 527V532M954.5 525V532M955.5 524V532M956.5 524V532M957.5 524V532M958.5 525V532M959.5 527V532M960.5 529V532M961.5 530V532M962.5 531V532M963.5 533V534M964.5 533V537M965.5 533V540M966.5 533V543M967.5 533V545M968.5 533V548M969.5 533V550M970.5 533V552M971.5 533V554M972.5 533V554M973.5 533V554M974.5 533V554M975.5 533V554M976.5 533V554M977.5 533V555M978.5 533V556M979.5 533V556M980.5 533V556M981.5 533V556M982.5 533V556M983.5 533V553M984.5 533V550M985.5 533V547M986.5 533V544M987.5 533V540M988.5 533V537M989.5 533V534M990.5 531V532M991.5 530V532M992.5 528V532M993.5 527V532M994.5 528V532M995.5 529V532M996.5 530V532M997.5 531V532M998.5 533V536M999.5 533V541M1000.5 533V546M1001.5 533V550M1002.5 533V554M1003.5 533V553M1004.5 533V552M1005.5 533V551M1006.5 533V551M1007.5 533V551M1008.5 533V551M1009.5 533V551M1010.5 533V551M1011.5 533V550M1012.5 533V549M1013.5 533V548M1014.5 533V546M1015.5 533V545M1016.5 533V543M1017.5 533V542M1018.5 533V541M1019.5 533V540M1020.5 533V539M1021.5 533V538M1022.5 533V537M1023.5 533V537M1024.5 533V537M1025.5 533V537M1026.5 533V537M1027.5 533V538M1028.5 533V539M1029.5 533V540M1030.5 533V541M1031.5 533V540M1032.5 533V539M1033.5 533V538M1034.5 533V536M1035.5 533V534M1036.5 531V532M1037.5 530V532M1038.5 529V532M1039.5 527V532M1040.5 525V532M1041.5 522V532M1042.5 519V532M1043.5 517V532M1044.5 515V532M1045.5 513V532M1046.5 512V532M1047.5 511V532M1048.5 510V532M1049.5 511V532M1050.5 512V532M1051.5 513V532M1052.5 516V532M1053.5 519V532M1054.5 521V532M1055.5 525V532M1056.5 528V532M1057.5 531V532" stroke="#808080" stroke-width="1" fill="none" shape-rendering="crispEdges"/>
<polyline fill="none" stroke="#f00" stroke-width="1" stroke-dasharray="3 3" shape-rendering="crispEdges" points="3.5,538.2 4.5,539.8 5.5,541.5 6.5,543.4 7.5,545.3 8.5,547.0 9.5,548.5 10.5,549.8 11.5,550.6 12.5,550.9 13.5,550.7 14.5,550.2 15.5,549.2 16.5,548.1 17.5,546.8 18.5,545.4 19.5,543.8 20.5,542.3 21.5,540.9 22.5,539.5 23.5,538.2 24.5,537.0 25.5,535.4 26.5,533.3 27.5,531.1 28.5,528.8 29.5,526.4 30.5,523.8 31.5,521.2 32.5,518.7 33.5,516.2 34.5,514.2 35.5,512.5 36.5,510.9 37.5,509.3 38.5,508.0 39.5,507.3 40.5,506.8 41.5,506.8 42.5,507.2 43.5,507.9 44.5,509.1 45.5,510.9 46.5,513.3 47.5,515.9 48.5,518.6 49.5,521.4 50.5,524.3 51.5,527.2 52.5,530.2 53.5,533.1 54.5,536.0 55.5,538.8 56.5,541.5 57.5,543.7 58.5,545.0 59.5,545.4 60.5,544.6 61.5,543.0 62.5,540.6 63.5,537.6 64.5,534.1 65.5,530.1 66.5,526.3 67.5,522.9 68.5,520.0 69.5,518.2 70.5,517.1 71.5,516.7 72.5,516.7 73.5,517.1 74.5,517.7 75.5,518.2 76.5,518.7 77.5,519.2 78.5,519.3 79.5,519.3 80.5,519.0 81.5,518.6 82.5,518.0 83.5,517.4 84.5,517.0 85.5,517.2 86.5,517.7 87.5,518.6 88.5,519.7 89.5,521.1 90.5,522.8 91.5,524.6 92.5,526.8 93.5,529.1 94.5,531.2 95.5,532.9 96.5,534.3 97.5,535.4 98.5,536.2 99.5,536.9 100.5,537.5 101.5,537.9 102.5,538.2 103.5,538.4 104.5,538.5 105.5,538.5 106.5,538.4 107.5,538.1 108.5,537.5 109.5,536.5 110.5,535.1 111.5,533.4 112.5,531.6 113.5,529.8 114.5,528.0 115.5,526.3 116.5,524.5 117.5,522.6 118.5,520.9 119.5,519.4 120.5,517.9 121.5,516.5 122.5,515.5 123.5,514.8 124.5,514.5 125.5,514.4 126.5,514.4 127.5,514.5 128.5,514.6 129.5,514.5 130.5,514.1 131.5,513.0 132.5,511.1 133.5,508.4 134.5,505.4 135.5,501.8 136.5,498.0 137.5,494.3 138.5,490.8 139.5,487.5 140.5,484.8 141.5,482.7 142.5,481.3 143.5,480.6 144.5,480.4 145.5,480.8 146.5,481.1 147.5,481.5 148.5,482.1 149.5,482.8 150.5,483.6 151.5,484.6 152.5,486.0 153.5,487.8 154.5,490.1 155.5,492.9 156.5,496.0 157.5,499.4 158.5,502.8 159.5,506.3 160.5,509.6 161.5,512.5 162.5,515.1 163.5,517.4 164.5,519.7 165.5,521.9 166.5,524.5 167.5,527.5 168.5,530.7 169.5,533.9 170.5,537.4 171.5,541.0 172.5,544.6 173.5,547.8 174.5,550.4 175.5,552.0 176.5,552.8 177.5,553.0 178.5,552.7 179.5,552.0 180.5,550.8 181.5,549.1 182.5,547.2 183.5,545.2 184.5,543.1 185.5,540.8 186.5,538.3 187.5,535.6 188.5,532.9 189.5,530.5 190.5,528.2 191.5,526.2 192.5,524.4 193.5,522.8 194.5,521.5 195.5,520.5 196.5,520.0 197.5,519.7 198.5,519.5 199.5,519.5 200.5,519.7 201.5,520.1 202.5,520.7 203.5,521.5 204.5,522.3 205.5,523.2 206.5,524.1 207.5,524.9 208.5,526.0 209.5,527.3 210.5,528.8 211.5,530.7 212.5,532.6 213.5,534.5 214.5,536.5 215.5,538.5 216.5,540.4 217.5,542.0 218.5,543.2 219.5,544.0 220.5,544.4 221.5,544.8 222.5,545.1 223.5,545.4 224.5,545.6 225.5,545.9 226.5,546.3 227.5,546.8 228.5,547.2 229.5,547.4 230.5,547.2 231.5,546.9 232.5,546.3 233.5,545.5 234.5,544.6 235.5,543.4 236.5,542.1 237.5,540.8 238.5,539.6 239.5,538.4 240.5,537.2 241.5,535.7 242.5,533.9 243.5,532.0 244.5,530.1 245.5,528.1 246.5,526.0 247.5,523.9 248.5,522.0 249.5,520.1 250.5,518.7 251.5,517.2 252.5,515.6 253.5,513.7 254.5,512.0 255.5,510.6 256.5,509.4 257.5,508.5 258.5,507.6 259.5,507.0 260.5,506.9 261.5,507.3 262.5,508.3 263.5,509.5 264.5,510.6 265.5,511.9 266.5,513.6 267.5,515.8 268.5,518.3 269.5,521.3 270.5,524.5 271.5,527.8 272.5,531.0 273.5,534.2 274.5,537.3 275.5,539.9 276.5,542.1 277.5,543.8 278.5,545.3 279.5,546.4 280.5,547.5 281.5,548.3 282.5,548.7 283.5,548.8 284.5,548.4 285.5,547.3 286.5,545.7 287.5,543.8 288.5,541.5 289.5,539.0 290.5,536.7 291.5,534.4 292.5,532.5 293.5,531.5 294.5,531.3 295.5,531.8 296.5,532.8 297.5,534.0 298.5,535.2 299.5,536.3 300.5,537.4 301.5,538.4 302.5,539.1 303.5,539.2 304.5,538.9 305.5,538.2 306.5,537.2 307.5,536.1 308.5,534.9 309.5,533.7 310.5,532.3 311.5,530.7 312.5,529.8 313.5,529.3 314.5,529.1 315.5,529.4 316.5,530.2 317.5,531.7 318.5,533.5 319.5,535.6 320.5,538.0 321.5,540.1 322.5,542.2 323.5,544.3 324.5,546.3 325.5,548.2 326.5,549.9 327.5,551.6 328.5,553.1 329.5,554.5 330.5,555.7 331.5,556.5 332.5,556.9 333.5,557.0 334.5,556.6 335.5,555.8 336.5,554.7 337.5,553.3 338.5,551.6 339.5,549.8 340.5,548.1 341.5,546.7 342.5,545.7 343.5,544.9 344.5,544.4 345.5,544.1 346.5,544.0 347.5,543.9 348.5,544.0 349.5,544.2 350.5,544.2 351.5,544.1 352.5,543.8 353.5,543.4 354.5,542.8 355.5,542.0 356.5,541.0 357.5,539.7 358.5,538.1 359.5,536.1 360.5,533.9 361.5,531.6 362.5,529.2 363.5,526.8 364.5,524.3 365.5,521.9 366.5,519.6 367.5,517.5 368.5,515.7 369.5,514.1 370.5,512.6 371.5,511.3 372.5,510.3 373.5,509.4 374.5,508.8 375.5,508.5 376.5,508.5 377.5,508.6 378.5,508.9 379.5,509.3 380.5,509.7 381.5,510.2 382.5,510.7 383.5,511.2 384.5,511.6 385.5,512.1 386.5,512.7 387.5,513.5 388.5,514.7 389.5,516.1 390.5,517.7 391.5,519.6 392.5,521.8 393.5,524.1 394.5,526.3 395.5,528.3 396.5,529.9 397.5,531.3 398.5,532.2 399.5,532.5 400.5,531.9 401.5,530.8 402.5,529.3 403.5,527.6 404.5,525.9 405.5,524.5 406.5,523.2 407.5,522.0 408.5,521.1 409.5,520.7 410.5,520.6 411.5,520.7 412.5,520.9 413.5,521.0 414.5,520.8 415.5,520.5 416.5,520.1 417.5,519.5 418.5,518.7 419.5,517.7 420.5,516.6 421.5,515.4 422.5,514.6 423.5,514.1 424.5,513.9 425.5,514.1 426.5,514.6 427.5,515.2 428.5,516.1 429.5,517.2 430.5,518.5 431.5,519.7 432.5,520.9 433.5,522.0 434.5,523.0 435.5,524.1 436.5,525.3 437.5,526.6 438.5,527.9 439.5,529.4 440.5,531.0 441.5,532.6 442.5,534.3 443.5,536.2 444.5,538.0 445.5,539.7 446.5,541.3 447.5,542.8 448.5,543.8 449.5,544.4 450.5,544.8 451.5,545.1 452.5,545.1 453.5,545.3 454.5,545.8 455.5,546.6 456.5,547.8 457.5,549.4 458.5,551.4 459.5,553.6 460.5,555.9 461.5,558.2 462.5,560.2 463.5,561.6 464.5,562.4 465.5,562.6 466.5,562.3 467.5,561.4 468.5,559.9 469.5,557.9 470.5,555.6 471.5,552.9 472.5,550.4 473.5,547.8 474.5,545.3 475.5,542.7 476.5,540.3 477.5,538.0 478.5,536.0 479.5,534.1 480.5,532.4 481.5,531.0 482.5,530.1 483.5,529.7 484.5,529.6 485.5,529.5 486.5,529.6 487.5,529.7 488.5,529.9 489.5,530.1 490.5,530.3 491.5,530.2 492.5,529.9 493.5,529.4 494.5,528.9 495.5,528.4 496.5,528.1 497.5,527.8 498.5,527.6 499.5,527.4 500.5,527.2 501.5,527.1 502.5,527.1 503.5,527.1 504.5,527.0 505.5,526.8 506.5,526.4 507.5,525.9 508.5,525.4 509.5,524.9 510.5,524.6 511.5,524.6 512.5,524.8 513.5,525.1 514.5,525.7 515.5,526.3 516.5,527.0 517.5,527.8 518.5,528.4 519.5,528.9 520.5,529.0 521.5,529.0 522.5,528.7 523.5,528.3 524.5,528.0 525.5,527.7 526.5,527.4 527.5,527.2 528.5,527.1 529.5,527.1 530.5,527.2 531.5,527.3 532.5,527.4 533.5,527.5 534.5,527.5 535.5,527.2 536.5,526.6 537.5,525.6 538.5,524.3 539.5,522.6 540.5,520.9 541.5,519.2 542.5,517.4 543.5,516.0 544.5,515.2 545.5,514.8 546.5,514.8 547.5,515.3 548.5,516.3 549.5,517.4 550.5,518.6 551.5,519.8 552.5,520.8 553.5,521.6 554.5,522.3 555.5,523.0 556.5,523.7 557.5,524.4 558.5,525.3 559.5,526.2 560.5,527.3 561.5,528.5 562.5,529.6 563.5,530.7 564.5,531.5 565.5,532.3 566.5,532.8 567.5,533.1 568.5,533.2 569.5,533.1 570.5,532.8 571.5,532.5 572.5,532.2 573.5,532.0 574.5,532.0 575.5,531.9 576.5,531.8 577.5,531.4 578.5,530.9 579.5,530.3 580.5,529.7 581.5,529.0 582.5,528.2 583.5,527.6 584.5,527.0 585.5,526.7 586.5,526.7 587.5,526.9 588.5,527.3 589.5,527.8 590.5,528.4 591.5,529.1 592.5,529.7 593.5,530.3 594.5,530.9 595.5,531.5 596.5,532.2 597.5,532.9 598.5,533.6 599.5,534.3 600.5,535.0 601.5,535.7 602.5,536.2 603.5,536.5 604.5,536.6 605.5,536.4 606.5,536.0 607.5,535.5 608.5,534.6 609.5,533.5 610.5,532.1 611.5,530.6 612.5,529.0 613.5,527.3 614.5,525.6 615.5,523.9 616.5,522.3 617.5,520.9 618.5,519.9 619.5,519.3 620.5,519.2 621.5,519.5 622.5,520.1 623.5,521.1 624.5,522.4 625.5,524.0 626.5,525.7 627.5,527.6 628.5,529.5 629.5,531.6 630.5,533.6 631.5,535.7 632.5,537.8 633.5,540.0 634.5,542.2 635.5,544.4 636.5,546.5 637.5,548.4 638.5,549.8 639.5,550.9 640.5,551.5 641.5,551.8 642.5,551.7 643.5,551.2 644.5,550.3 645.5,549.1 646.5,547.8 647.5,546.4 648.5,545.1 649.5,543.8 650.5,542.6 651.5,541.5 652.5,540.6 653.5,540.0 654.5,539.6 655.5,539.4 656.5,539.4 657.5,539.6 658.5,539.9 659.5,540.3 660.5,540.6 661.5,540.7 662.5,540.5 663.5,539.8 664.5,538.5 665.5,536.6 666.5,534.4 667.5,531.8 668.5,529.1 669.5,526.3 670.5,523.5 671.5,520.8 672.5,518.4 673.5,516.3 674.5,514.8 675.5,513.5 676.5,512.4 677.5,511.4 678.5,510.6 679.5,509.9 680.5,509.2 681.5,508.7 682.5,508.3 683.5,508.2 684.5,508.3 685.5,508.6 686.5,509.0 687.5,509.5 688.5,510.0 689.5,510.6 690.5,511.0 691.5,511.2 692.5,511.1 693.5,511.0 694.5,510.9 695.5,510.9 696.5,510.9 697.5,511.0 698.5,511.1 699.5,511.4 700.5,512.0 701.5,512.8 702.5,513.4 703.5,514.0 704.5,514.5 705.5,514.8 706.5,515.0 707.5,515.0 708.5,514.8 709.5,514.4 710.5,513.9 711.5,513.1 712.5,512.2 713.5,511.0 714.5,509.5 715.5,507.9 716.5,506.3 717.5,504.7 718.5,503.1 719.5,501.8 720.5,500.6 721.5,499.7 722.5,499.2 723.5,499.2 724.5,499.6 725.5,500.3 726.5,501.2 727.5,502.4 728.5,503.6 729.5,504.9 730.5,506.2 731.5,507.6 732.5,508.9 733.5,510.2 734.5,511.4 735.5,512.6 736.5,513.8 737.5,514.9 738.5,516.0 739.5,517.1 740.5,518.1 741.5,519.2 742.5,519.9 743.5,520.4 744.5,520.7 745.5,520.9 746.5,521.3 747.5,522.0 748.5,522.7 749.5,523.6 750.5,524.5 751.5,525.8 752.5,527.5 753.5,529.5 754.5,531.8 755.5,533.9 756.5,535.9 757.5,537.8 758.5,539.5 759.5,541.1 760.5,542.4 761.5,543.2 762.5,543.7 763.5,543.3 764.5,542.3 765.5,540.5 766.5,538.3 767.5,536.1 768.5,533.9 769.5,531.9 770.5,530.0 771.5,528.2 772.5,526.8 773.5,525.8 774.5,525.5 775.5,525.7 776.5,526.0 777.5,526.4 778.5,526.7 779.5,527.3 780.5,528.0 781.5,528.9 782.5,530.0 783.5,531.0 784.5,531.8 785.5,532.5 786.5,533.1 787.5,533.8 788.5,534.7 789.5,535.7 790.5,536.7 791.5,537.6 792.5,538.6 793.5,540.1 794.5,542.3 795.5,545.0 796.5,547.7 797.5,550.6 798.5,553.6 799.5,556.7 800.5,559.9 801.5,563.1 802.5,565.8 803.5,567.7 804.5,568.9 805.5,569.6 806.5,569.8 807.5,569.6 808.5,569.1 809.5,568.3 810.5,567.3 811.5,566.0 812.5,564.7 813.5,563.4 814.5,561.9 815.5,559.9 816.5,557.7 817.5,555.3 818.5,552.9 819.5,550.4 820.5,548.0 821.5,545.7 822.5,543.6 823.5,542.1 824.5,541.3 825.5,541.2 826.5,541.4 827.5,541.9 828.5,542.5 829.5,543.3 830.5,544.3 831.5,545.4 832.5,546.5 833.5,547.4 834.5,548.2 835.5,548.9 836.5,549.6 837.5,550.4 838.5,551.4 839.5,552.3 840.5,553.1 841.5,553.7 842.5,554.0 843.5,554.0 844.5,553.7 845.5,553.1 846.5,552.3 847.5,551.2 848.5,549.8 849.5,548.3 850.5,547.0 851.5,546.0 852.5,545.3 853.5,544.9 854.5,544.6 855.5,544.4 856.5,544.3 857.5,544.2 858.5,543.9 859.5,543.3 860.5,542.5 861.5,541.5 862.5,540.3 863.5,538.9 864.5,537.5 865.5,536.2 866.5,535.2 867.5,534.6 868.5,534.3 869.5,534.1 870.5,534.0 871.5,533.8 872.5,533.4 873.5,532.6 874.5,531.7 875.5,530.8 876.5,529.5 877.5,528.1 878.5,526.9 879.5,525.8 880.5,525.0 881.5,524.5 882.5,524.5 883.5,524.6 884.5,524.6 885.5,524.7 886.5,524.7 887.5,524.5 888.5,524.0 889.5,523.4 890.5,522.9 891.5,522.5 892.5,522.2 893.5,522.2 894.5,522.5 895.5,523.0 896.5,523.7 897.5,524.7 898.5,525.8 899.5,526.7 900.5,527.5 901.5,528.1 902.5,528.3 903.5,528.3 904.5,528.2 905.5,528.2 906.5,528.2 907.5,528.2 908.5,528.4 909.5,528.7 910.5,529.1 911.5,529.6 912.5,529.9 913.5,530.0 914.5,529.8 915.5,529.2 916.5,528.4 917.5,527.4 918.5,526.3 919.5,525.1 920.5,523.9 921.5,522.7 922.5,521.7 923.5,520.9 924.5,520.2 925.5,519.7 926.5,519.1 927.5,518.5 928.5,517.9 929.5,517.4 930.5,517.1 931.5,516.8 932.5,516.7 933.5,516.8 934.5,517.1 935.5,517.8 936.5,518.7 937.5,519.8 938.5,521.0 939.5,522.0 940.5,522.9 941.5,523.6 942.5,523.9 943.5,523.8 944.5,523.6 945.5,523.3 946.5,522.9 947.5,522.6 948.5,522.4 949.5,522.3 950.5,522.5 951.5,523.0 952.5,523.7 953.5,524.4 954.5,524.9 955.5,525.2 956.5,525.3 957.5,525.5 958.5,525.6 959.5,525.8 960.5,526.1 961.5,526.6 962.5,527.1 963.5,528.0 964.5,529.4 965.5,531.1 966.5,533.0 967.5,535.1 968.5,537.4 969.5,539.7 970.5,542.0 971.5,544.4 972.5,546.7 973.5,548.6 974.5,550.1 975.5,551.3 976.5,552.3 977.5,553.1 978.5,553.8 979.5,554.3 980.5,554.5 981.5,554.6 982.5,554.8 983.5,554.7 984.5,554.3 985.5,553.4 986.5,552.1 987.5,550.4 988.5,548.2 989.5,545.8 990.5,543.2 991.5,540.4 992.5,537.8 993.5,535.3 994.5,533.3 995.5,531.7 996.5,530.7 997.5,530.1 998.5,530.3 999.5,531.2 1000.5,532.9 1001.5,535.2 1002.5,538.1 1003.5,540.7 1004.5,543.2 1005.5,545.4 1006.5,547.4 1007.5,549.1 1008.5,550.2 1009.5,550.7 1010.5,550.8 1011.5,550.3 1012.5,549.9 1013.5,549.4 1014.5,548.9 1015.5,548.3 1016.5,547.4 1017.5,546.4 1018.5,545.3 1019.5,544.1 1020.5,542.9 1021.5,541.7 1022.5,540.6 1023.5,539.6 1024.5,538.7 1025.5,538.1 1026.5,537.5 1027.5,537.2 1028.5,537.1 1029.5,537.3 1030.5,537.6 1031.5,537.9 1032.5,538.1 1033.5,538.1 1034.5,538.0 1035.5,537.6 1036.5,537.0 1037.5,536.1 1038.5,534.9 1039.5,533.6 1040.5,532.0 1041.5,530.3 1042.5,528.4 1043.5,526.4 1044.5,524.5 1045.5,522.4 1046.5,520.4 1047.5,518.4 1048.5,516.4 1049.5,514.9 1050.5,513.8 1051.5,513.1 1052.5,513.0 1053.5,513.4 1054.5,514.3 1055.5,515.8 1056.5,517.7 1057.5,520.0 1058.5,522.3"/>
<g shape-rendering="crispEdges" fill="#000">
<rect x="2" y="2" width="1317" height="1"/>
<rect x="2" y="2" width="1" height="581"/>
<rect x="1318" y="2" width="1" height="460"/>
<rect x="1318" y="463" width="1" height="120"/>
<rect x="2" y="461" width="1317" height="1"/>
<rect x="2" y="463" width="1317" height="1"/>
<rect x="2" y="582" width="1317" height="1"/>
<rect x="1319" y="464" width="4" height="1"/>
<rect x="1319" y="581" width="4" height="1"/>
<rect x="1319" y="10" width="4" height="1"/>
<rect x="1319" y="43" width="4" height="1"/>
<rect x="1319" y="75" width="4" height="1"/>
<rect x="1319" y="107" width="4" height="1"/>
<rect x="1319" y="139" width="4" height="1"/>
<rect x="1319" y="171" width="4" height="1"/>
<rect x="1319" y="204" width="4" height="1"/>
<rect x="1319" y="236" width="4" height="1"/>
<rect x="1319" y="268" width="4" height="1"/>
<rect x="1319" y="300" width="4" height="1"/>
<rect x="1319" y="332" width="4" height="1"/>
<rect x="1319" y="364" width="4" height="1"/>
<rect x="1319" y="397" width="4" height="1"/>
<rect x="1319" y="429" width="4" height="1"/>
<rect x="2" y="583" width="1" height="3"/>
<rect x="66" y="583" width="1" height="3"/>
<rect x="130" y="583" width="1" height="3"/>
<rect x="194" y="583" width="1" height="3"/>
<rect x="258" y="583" width="1" height="3"/>
<rect x="322" y="583" width="1" height="3"/>
<rect x="386" y="583" width="1" height="3"/>
<rect x="450" y="583" width="1" height="3"/>
<rect x="514" y="583" width="1" height="3"/>
<rect x="578" y="583" width="1" height="3"/>
<rect x="642" y="583" width="1" height="3"/>
<rect x="706" y="583" width="1" height="3"/>
<rect x="770" y="583" width="1" height="3"/>
<rect x="834" y="583" width="1" height="3"/>
<rect x="898" y="583" width="1" height="3"/>
<rect x="962" y="583" width="1" height="3"/>
<rect x="1026" y="583" width="1" height="3"/>
<rect x="1321" y="213" width="34" height="11" fill="#c0c0c0"/>
</g>
<text class="ax" x="1324.3" y="14" textLength="27.6" lengthAdjust="spacingAndGlyphs">1.4920</text>
<text class="ax" x="1324.3" y="47" textLength="27.6" lengthAdjust="spacingAndGlyphs">1.4730</text>
<text class="ax" x="1324.3" y="79" textLength="27.6" lengthAdjust="spacingAndGlyphs">1.4540</text>
<text class="ax" x="1324.3" y="111" textLength="27.6" lengthAdjust="spacingAndGlyphs">1.4350</text>
<text class="ax" x="1324.3" y="143" textLength="27.6" lengthAdjust="spacingAndGlyphs">1.4160</text>
<text class="ax" x="1324.3" y="175" textLength="27.6" lengthAdjust="spacingAndGlyphs">1.3970</text>
<text class="ax" x="1324.3" y="208" textLength="27.6" lengthAdjust="spacingAndGlyphs">1.3780</text>
<text class="ax" x="1324.3" y="240" textLength="27.6" lengthAdjust="spacingAndGlyphs">1.3590</text>
<text class="ax" x="1324.3" y="272" textLength="27.6" lengthAdjust="spacingAndGlyphs">1.3400</text>
<text class="ax" x="1324.3" y="304" textLength="27.6" lengthAdjust="spacingAndGlyphs">1.3210</text>
<text class="ax" x="1324.3" y="336" textLength="27.6" lengthAdjust="spacingAndGlyphs">1.3020</text>
<text class="ax" x="1324.3" y="368" textLength="27.6" lengthAdjust="spacingAndGlyphs">1.2830</text>
<text class="ax" x="1324.3" y="401" textLength="27.6" lengthAdjust="spacingAndGlyphs">1.2640</text>
<text class="ax" x="1324.3" y="433" textLength="27.6" lengthAdjust="spacingAndGlyphs">1.2450</text>
<text class="ax" x="1324.3" y="222" style="fill:#fff;stroke:#fff" textLength="27.6" lengthAdjust="spacingAndGlyphs">1.3692</text>
<text class="ax" x="1323.4" y="472" textLength="33.3" lengthAdjust="spacingAndGlyphs">0.02229</text>
<text class="ax" x="1323.5" y="580" textLength="36" lengthAdjust="spacingAndGlyphs">-0.01643</text>
<text class="ax" x="1.5" y="595" textLength="51.8" lengthAdjust="spacingAndGlyphs">24 Mar 2022</text>
<text class="ax" x="65.5" y="595" textLength="50.8" lengthAdjust="spacingAndGlyphs">22 Jun 2022</text>
<text class="ax" x="129.5" y="595" textLength="52.4" lengthAdjust="spacingAndGlyphs">20 Sep 2022</text>
<text class="ax" x="193.5" y="595" textLength="52.3" lengthAdjust="spacingAndGlyphs">19 Dec 2022</text>
<text class="ax" x="257.5" y="595" textLength="51.8" lengthAdjust="spacingAndGlyphs">17 Mar 2023</text>
<text class="ax" x="321.5" y="595" textLength="50.8" lengthAdjust="spacingAndGlyphs">15 Jun 2023</text>
<text class="ax" x="385.5" y="595" textLength="52.4" lengthAdjust="spacingAndGlyphs">13 Sep 2023</text>
<text class="ax" x="449.5" y="595" textLength="52.3" lengthAdjust="spacingAndGlyphs">12 Dec 2023</text>
<text class="ax" x="513.5" y="595" textLength="51.8" lengthAdjust="spacingAndGlyphs">13 Mar 2024</text>
<text class="ax" x="577.5" y="595" textLength="50.1" lengthAdjust="spacingAndGlyphs">11 Jun 2024</text>
<text class="ax" x="641.5" y="595" textLength="47.2" lengthAdjust="spacingAndGlyphs">9 Sep 2024</text>
<text class="ax" x="705.5" y="595" textLength="47.2" lengthAdjust="spacingAndGlyphs">6 Dec 2024</text>
<text class="ax" x="769.5" y="595" textLength="51.8" lengthAdjust="spacingAndGlyphs">10 Mar 2025</text>
<text class="ax" x="833.5" y="595" textLength="45.7" lengthAdjust="spacingAndGlyphs">6 Jun 2025</text>
<text class="ax" x="897.5" y="595" textLength="47.2" lengthAdjust="spacingAndGlyphs">4 Sep 2025</text>
<text class="ax" x="961.5" y="595" textLength="47.2" lengthAdjust="spacingAndGlyphs">3 Dec 2025</text>
<text class="ax" x="1025.5" y="595" textLength="46.7" lengthAdjust="spacingAndGlyphs">5 Mar 2026</text>
<text class="ax" x="6.3" y="13" textLength="200.8" lengthAdjust="spacingAndGlyphs">USDCAD, Daily:  US Dollar vs Canadian Dollar</text>
<text class="ax" x="5.4" y="476" textLength="138.8" lengthAdjust="spacingAndGlyphs">MACD(12,26,9) 0.00000 0.00354</text>
<g class="wv"><text transform="translate(136.99,164.50) scale(1.003,1.00)" style="font-size:15.3px;stroke-width:0.0px">(</text><text transform="translate(142.10,166.70) scale(0.964,1.00)" style="font-size:15.3px;stroke-width:0.0px">A</text><text transform="translate(152.75,164.50) scale(1.003,1.00)" style="font-size:15.3px;stroke-width:0.0px">)</text></g>
<g class="wv"><text transform="translate(244.37,186.20) scale(0.869,1.10)" style="font-size:15.3px;stroke-width:0.0px">[</text><text transform="translate(248.79,187.00) scale(1.157,1.00)" style="font-size:15.3px;stroke-width:0.0px">b</text><text transform="translate(257.65,186.20) scale(0.869,1.10)" style="font-size:15.3px;stroke-width:0.0px">]</text></g>
<g class="wv"><text transform="translate(161.41,310.90) scale(0.920,1.10)" style="font-size:15.3px;stroke-width:0.0px">[</text><text transform="translate(166.10,311.70) scale(1.242,1.00)" style="font-size:15.3px;stroke-width:0.0px">a</text><text transform="translate(174.54,310.90) scale(0.920,1.10)" style="font-size:15.3px;stroke-width:0.0px">]</text></g>
<g class="wv"><text transform="translate(337.60,336.70) scale(0.984,1.00)" style="font-size:15.3px;stroke-width:0.0px">W</text></g>
<g class="wv"><text transform="translate(409.19,180.85) scale(0.942,1.10)" style="font-size:15.3px;stroke-width:0.0px">[</text><text transform="translate(413.99,181.65) scale(1.128,1.00)" style="font-size:15.3px;stroke-width:0.0px">w</text><text transform="translate(426.45,180.85) scale(0.942,1.10)" style="font-size:15.3px;stroke-width:0.0px">]</text></g>
<g class="wv"><text transform="translate(452.56,318.85) scale(0.877,1.10)" style="font-size:15.3px;stroke-width:0.0px">[</text><text transform="translate(457.03,319.65) scale(1.109,1.00)" style="font-size:15.3px;stroke-width:0.0px">x</text><text transform="translate(465.51,318.85) scale(0.877,1.10)" style="font-size:15.3px;stroke-width:0.0px">]</text></g>
<g class="wv"><text transform="translate(612.30,172.00) scale(0.966,1.00)" style="font-size:15.3px;stroke-width:0.0px">X</text></g>
<g class="wv"><text transform="translate(644.17,277.50) scale(1.024,1.00)" style="font-size:15.3px;stroke-width:0.0px">(</text><text transform="translate(649.39,279.70) scale(1.006,1.00)" style="font-size:15.3px;stroke-width:0.0px">B</text><text transform="translate(659.66,277.50) scale(1.024,1.00)" style="font-size:15.3px;stroke-width:0.0px">)</text></g>
<g class="wv"><text transform="translate(720.24,26.50) scale(1.075,1.00)" style="font-size:15.3px;stroke-width:0.0px">(</text><text transform="translate(725.72,28.70) scale(1.076,1.00)" style="font-size:15.3px;stroke-width:0.0px">C</text><text transform="translate(736.70,26.50) scale(1.075,1.00)" style="font-size:15.3px;stroke-width:0.0px">)</text><text transform="translate(742.18,27.90) scale(0.830,1.10)" style="font-size:15.3px;stroke-width:0.0px">[</text><text transform="translate(746.41,28.70) scale(1.033,1.00)" style="font-size:15.3px;stroke-width:0.0px">Y</text><text transform="translate(757.82,27.90) scale(0.830,1.10)" style="font-size:15.3px;stroke-width:0.0px">]</text><text transform="translate(762.05,28.70) scale(1.106,1.00)" style="font-size:15.3px;stroke-width:0.0px">b</text></g>
<g class="wv"><text transform="translate(761.09,71.60) scale(1.164,1.00)" style="font-size:15.3px;stroke-width:0.0px">2</text></g>
<g class="wv"><text transform="translate(776.26,91.50) scale(0.967,1.10)" style="font-size:15.3px;stroke-width:0.0px">[</text><text transform="translate(781.19,92.30) scale(1.160,1.00)" style="font-size:15.3px;stroke-width:0.0px">i</text><text transform="translate(786.12,92.30) scale(1.160,1.00)" style="font-size:15.3px;stroke-width:0.0px">i</text><text transform="translate(791.05,91.50) scale(0.967,1.10)" style="font-size:15.3px;stroke-width:0.0px">]</text></g>
<g class="wv"><text transform="translate(743.37,135.30) scale(0.926,1.00)" style="font-size:15.3px;stroke-width:0.0px">1</text></g>
<g class="wv"><text transform="translate(761.39,139.20) scale(0.947,1.10)" style="font-size:15.3px;stroke-width:0.0px">[</text><text transform="translate(766.21,140.00) scale(1.135,1.00)" style="font-size:15.3px;stroke-width:0.0px">i</text><text transform="translate(771.03,139.20) scale(0.947,1.10)" style="font-size:15.3px;stroke-width:0.0px">]</text></g>
<g class="wv"><text transform="translate(805.40,159.60) scale(0.935,1.10)" style="font-size:15.3px;stroke-width:0.0px">[</text><text transform="translate(810.16,160.40) scale(1.121,1.00)" style="font-size:15.3px;stroke-width:0.0px">i</text><text transform="translate(814.93,160.40) scale(1.183,1.00)" style="font-size:15.3px;stroke-width:0.0px">v</text><text transform="translate(823.98,159.60) scale(0.935,1.10)" style="font-size:15.3px;stroke-width:0.0px">]</text></g>
<g class="wv"><text transform="translate(824.84,186.60) scale(1.048,1.00)" style="font-size:15.3px;stroke-width:0.0px">4</text></g>
<g class="wv"><text transform="translate(880.61,174.60) scale(0.926,1.10)" style="font-size:15.3px;stroke-width:0.0px">[</text><text transform="translate(885.33,175.40) scale(1.250,1.00)" style="font-size:15.3px;stroke-width:0.0px">a</text><text transform="translate(893.82,174.60) scale(0.926,1.10)" style="font-size:15.3px;stroke-width:0.0px">]</text></g>
<g class="wv"><text transform="translate(799.78,222.50) scale(0.953,1.10)" style="font-size:15.3px;stroke-width:0.0px">[</text><text transform="translate(804.64,223.30) scale(1.143,1.00)" style="font-size:15.3px;stroke-width:0.0px">i</text><text transform="translate(809.49,223.30) scale(1.143,1.00)" style="font-size:15.3px;stroke-width:0.0px">i</text><text transform="translate(814.35,223.30) scale(1.143,1.00)" style="font-size:15.3px;stroke-width:0.0px">i</text><text transform="translate(819.21,222.50) scale(0.953,1.10)" style="font-size:15.3px;stroke-width:0.0px">]</text></g>
<g class="wv"><text transform="translate(821.28,232.60) scale(1.018,1.00)" style="font-size:15.3px;stroke-width:0.0px">3</text></g>
<g class="wv"><text transform="translate(885.29,226.20) scale(0.852,1.10)" style="font-size:15.3px;stroke-width:0.0px">[</text><text transform="translate(889.63,227.00) scale(1.135,1.00)" style="font-size:15.3px;stroke-width:0.0px">b</text><text transform="translate(898.31,226.20) scale(0.852,1.10)" style="font-size:15.3px;stroke-width:0.0px">]</text></g>
<g class="wv"><text transform="translate(829.96,256.80) scale(1.039,1.00)" style="font-size:15.3px;stroke-width:0.0px">(</text><text transform="translate(835.26,259.00) scale(0.998,1.00)" style="font-size:15.3px;stroke-width:0.0px">A</text><text transform="translate(846.29,256.80) scale(1.039,1.00)" style="font-size:15.3px;stroke-width:0.0px">)</text></g>
<g class="wv"><text transform="translate(932.28,137.50) scale(1.019,1.00)" style="font-size:15.3px;stroke-width:0.0px">(</text><text transform="translate(937.47,139.70) scale(1.001,1.00)" style="font-size:15.3px;stroke-width:0.0px">B</text><text transform="translate(947.68,137.50) scale(1.019,1.00)" style="font-size:15.3px;stroke-width:0.0px">)</text></g>
<g class="wv"><text transform="translate(1037.55,167.80) scale(0.977,1.10)" style="font-size:15.3px;stroke-width:0.0px">[</text><text transform="translate(1042.53,168.60) scale(1.171,1.00)" style="font-size:15.3px;stroke-width:0.0px">i</text><text transform="translate(1047.51,167.80) scale(0.977,1.10)" style="font-size:15.3px;stroke-width:0.0px">]</text></g>
<g class="wv"><text transform="translate(1020.64,204.60) scale(0.944,1.00)" style="font-size:15.3px;stroke-width:0.0px">1</text></g>
<g class="wv"><text transform="translate(1038.88,240.50) scale(1.168,1.00)" style="font-size:15.3px;stroke-width:0.0px">(</text><text transform="translate(1044.84,242.70) scale(1.141,1.00)" style="font-size:15.3px;stroke-width:0.0px">y</text><text transform="translate(1053.57,240.50) scale(1.168,1.00)" style="font-size:15.3px;stroke-width:0.0px">)</text><text transform="translate(1059.52,241.90) scale(0.902,1.10)" style="font-size:15.3px;stroke-width:0.0px">[</text><text transform="translate(1064.12,242.70) scale(1.081,1.00)" style="font-size:15.3px;stroke-width:0.0px">i</text><text transform="translate(1068.71,242.70) scale(1.081,1.00)" style="font-size:15.3px;stroke-width:0.0px">i</text><text transform="translate(1073.31,241.90) scale(0.902,1.10)" style="font-size:15.3px;stroke-width:0.0px">]</text></g>
<g class="wv"><text transform="translate(1023.79,261.80) scale(1.164,1.00)" style="font-size:15.3px;stroke-width:0.0px">2</text></g>
<g class="wv"><text transform="translate(986.28,267.70) scale(0.859,1.10)" style="font-size:15.3px;stroke-width:0.0px">[</text><text transform="translate(990.66,268.50) scale(1.069,1.00)" style="font-size:15.3px;stroke-width:0.0px">X</text><text transform="translate(1002.47,268.50) scale(1.069,1.00)" style="font-size:15.3px;stroke-width:0.0px">X</text><text transform="translate(1014.28,267.70) scale(0.859,1.10)" style="font-size:15.3px;stroke-width:0.0px">]</text></g>
<g class="wv"><text transform="translate(370.26,134.30) scale(1.117,1.00)" style="font-size:15.3px;stroke-width:0.0px">F</text><text transform="translate(379.76,134.30) scale(0.973,1.00)" style="font-size:15.3px;stroke-width:0.0px">L</text><text transform="translate(393.71,134.30) scale(0.951,1.00)" style="font-size:15.3px;stroke-width:0.0px">-</text><text transform="translate(403.40,134.30) scale(1.006,1.00)" style="font-size:15.3px;stroke-width:0.0px">D</text><text transform="translate(414.52,134.30) scale(0.952,1.00)" style="font-size:15.3px;stroke-width:0.0px">Z</text><text transform="translate(423.42,134.30) scale(0.952,1.00)" style="font-size:15.3px;stroke-width:0.0px">Z</text><text transform="translate(437.16,134.30) scale(0.951,1.00)" style="font-size:15.3px;stroke-width:0.0px">-</text><text transform="translate(446.85,134.30) scale(0.952,1.00)" style="font-size:15.3px;stroke-width:0.0px">Z</text><text transform="translate(455.75,134.30) scale(0.952,1.00)" style="font-size:15.3px;stroke-width:0.0px">Z</text></g>
<g class="wv"><text transform="translate(1151.92,500.70) scale(0.931,1.00)" style="font-size:31.4px;stroke-width:0.0px">U</text><text transform="translate(1173.03,500.70) scale(0.896,1.00)" style="font-size:31.4px;stroke-width:0.0px">S</text><text transform="translate(1188.69,500.70) scale(0.949,1.00)" style="font-size:31.4px;stroke-width:0.0px">D</text><text transform="translate(1210.20,500.70) scale(0.971,1.00)" style="font-size:31.4px;stroke-width:0.0px">C</text><text transform="translate(1230.53,500.70) scale(0.931,1.00)" style="font-size:31.4px;stroke-width:0.0px">A</text><text transform="translate(1251.64,500.70) scale(0.949,1.00)" style="font-size:31.4px;stroke-width:0.0px">D</text><text transform="translate(1282.53,500.70) scale(0.931,1.00)" style="font-size:31.4px;stroke-width:0.0px">N</text></g>
</svg></body></html>
